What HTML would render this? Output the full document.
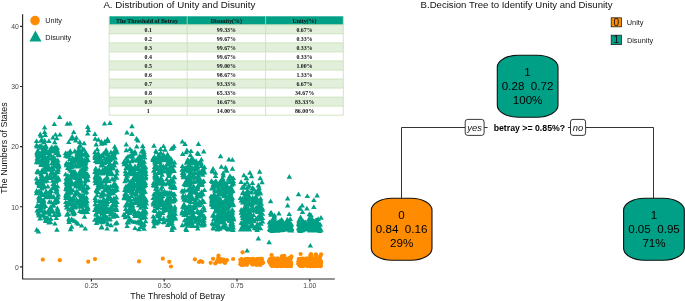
<!DOCTYPE html>
<html><head><meta charset="utf-8"><style>
html,body{margin:0;padding:0;background:#fff;width:685px;height:301px;overflow:hidden}
svg{position:absolute;left:0;top:0;display:block;will-change:transform}
text{font-family:"Liberation Sans",sans-serif}
.tk{font-size:6.75px;fill:#444}
.tb{font-family:"Liberation Serif",serif;font-weight:bold;font-size:5.9px;text-anchor:middle;fill:#111}
.nd{font-size:11.6px;text-anchor:middle;fill:#000}
</style></head><body>
<svg width="685" height="301" viewBox="0 0 685 301">
<!-- titles -->
<text x="103.4" y="7.5" style="font-size:9.7px" fill="#111">A. Distribution of Unity and Disunity</text>
<text x="420.6" y="7.8" style="font-size:9.6px" fill="#111">B.Decision Tree to Identify Unity and Disunity</text>
<!-- scatter -->
<path d="M80.7 170.7h5.5l-2.8 -4.7zM129.5 175.7h5.5l-2.8 -4.7zM104.6 189.2h5.5l-2.8 -4.7zM139.7 194.2h5.5l-2.8 -4.7zM126.7 186.2h5.5l-2.8 -4.7zM107.2 169.0h5.5l-2.8 -4.7zM99.6 224.2h5.5l-2.8 -4.7zM40.6 217.7h5.5l-2.8 -4.7zM81.4 207.8h5.5l-2.8 -4.7zM130.5 180.5h5.5l-2.8 -4.7zM214.2 193.3h5.5l-2.8 -4.7zM255.2 203.3h5.5l-2.8 -4.7zM82.2 164.8h5.5l-2.8 -4.7zM124.7 197.7h5.5l-2.8 -4.7zM129.2 194.4h5.5l-2.8 -4.7zM128.7 163.2h5.5l-2.8 -4.7zM82.1 183.6h5.5l-2.8 -4.7zM215.0 226.0h5.5l-2.8 -4.7zM83.4 175.1h5.5l-2.8 -4.7zM114.3 172.6h5.5l-2.8 -4.7zM45.1 165.4h5.5l-2.8 -4.7zM152.1 179.6h5.5l-2.8 -4.7zM197.1 164.5h5.5l-2.8 -4.7zM99.2 162.6h5.5l-2.8 -4.7zM194.3 183.4h5.5l-2.8 -4.7zM143.2 213.7h5.5l-2.8 -4.7zM218.9 195.9h5.5l-2.8 -4.7zM84.9 176.3h5.5l-2.8 -4.7zM215.7 199.4h5.5l-2.8 -4.7zM136.5 166.2h5.5l-2.8 -4.7zM125.0 188.0h5.5l-2.8 -4.7zM92.9 159.9h5.5l-2.8 -4.7zM167.0 169.8h5.5l-2.8 -4.7zM51.0 207.5h5.5l-2.8 -4.7zM98.1 209.0h5.5l-2.8 -4.7zM211.9 192.6h5.5l-2.8 -4.7zM211.1 220.9h5.5l-2.8 -4.7zM165.3 172.9h5.5l-2.8 -4.7zM52.0 165.9h5.5l-2.8 -4.7zM38.3 149.6h5.5l-2.8 -4.7zM55.2 164.9h5.5l-2.8 -4.7zM68.6 175.9h5.5l-2.8 -4.7zM127.0 222.0h5.5l-2.8 -4.7zM244.4 184.4h5.5l-2.8 -4.7zM39.9 156.3h5.5l-2.8 -4.7zM230.2 226.7h5.5l-2.8 -4.7zM137.7 217.6h5.5l-2.8 -4.7zM130.4 195.6h5.5l-2.8 -4.7zM50.7 175.7h5.5l-2.8 -4.7zM114.2 224.8h5.5l-2.8 -4.7zM129.9 156.2h5.5l-2.8 -4.7zM166.6 178.1h5.5l-2.8 -4.7zM133.5 196.8h5.5l-2.8 -4.7zM165.3 164.1h5.5l-2.8 -4.7zM304.7 229.1h5.5l-2.8 -4.7zM101.7 164.9h5.5l-2.8 -4.7zM190.0 217.0h5.5l-2.8 -4.7zM109.4 213.9h5.5l-2.8 -4.7zM278.3 225.5h5.5l-2.8 -4.7zM259.6 210.2h5.5l-2.8 -4.7zM55.3 171.8h5.5l-2.8 -4.7zM100.3 167.5h5.5l-2.8 -4.7zM105.2 210.6h5.5l-2.8 -4.7zM189.6 178.5h5.5l-2.8 -4.7zM307.4 222.7h5.5l-2.8 -4.7zM215.6 227.6h5.5l-2.8 -4.7zM164.9 226.9h5.5l-2.8 -4.7zM165.8 157.9h5.5l-2.8 -4.7zM35.1 207.4h5.5l-2.8 -4.7zM286.1 224.2h5.5l-2.8 -4.7zM298.2 225.8h5.5l-2.8 -4.7zM227.1 199.1h5.5l-2.8 -4.7zM237.6 200.0h5.5l-2.8 -4.7zM101.9 172.0h5.5l-2.8 -4.7zM276.8 226.2h5.5l-2.8 -4.7zM218.0 208.4h5.5l-2.8 -4.7zM46.5 203.8h5.5l-2.8 -4.7zM44.8 167.8h5.5l-2.8 -4.7zM138.1 223.0h5.5l-2.8 -4.7zM122.4 166.3h5.5l-2.8 -4.7zM181.2 206.3h5.5l-2.8 -4.7zM95.0 208.6h5.5l-2.8 -4.7zM213.6 210.5h5.5l-2.8 -4.7zM215.3 230.0h5.5l-2.8 -4.7zM246.6 216.8h5.5l-2.8 -4.7zM190.7 194.4h5.5l-2.8 -4.7zM249.6 226.2h5.5l-2.8 -4.7zM150.4 200.1h5.5l-2.8 -4.7zM217.6 220.6h5.5l-2.8 -4.7zM36.5 187.5h5.5l-2.8 -4.7zM184.2 152.2h5.5l-2.8 -4.7zM317.3 230.8h5.5l-2.8 -4.7zM165.1 184.4h5.5l-2.8 -4.7zM209.1 190.2h5.5l-2.8 -4.7zM197.5 223.1h5.5l-2.8 -4.7zM310.5 227.1h5.5l-2.8 -4.7zM164.5 210.3h5.5l-2.8 -4.7zM64.8 199.2h5.5l-2.8 -4.7zM125.3 200.7h5.5l-2.8 -4.7zM244.7 196.4h5.5l-2.8 -4.7zM65.7 158.8h5.5l-2.8 -4.7zM152.2 185.9h5.5l-2.8 -4.7zM38.3 147.7h5.5l-2.8 -4.7zM164.3 172.4h5.5l-2.8 -4.7zM76.2 150.9h5.5l-2.8 -4.7zM241.7 209.4h5.5l-2.8 -4.7zM104.4 221.0h5.5l-2.8 -4.7zM211.5 185.3h5.5l-2.8 -4.7zM68.3 172.7h5.5l-2.8 -4.7zM226.5 222.0h5.5l-2.8 -4.7zM194.6 191.0h5.5l-2.8 -4.7zM139.7 157.7h5.5l-2.8 -4.7zM190.7 165.1h5.5l-2.8 -4.7zM122.3 217.2h5.5l-2.8 -4.7zM141.3 225.9h5.5l-2.8 -4.7zM226.5 197.1h5.5l-2.8 -4.7zM75.8 165.3h5.5l-2.8 -4.7zM166.9 169.6h5.5l-2.8 -4.7zM156.0 194.2h5.5l-2.8 -4.7zM189.5 169.7h5.5l-2.8 -4.7zM81.8 218.8h5.5l-2.8 -4.7zM300.5 223.3h5.5l-2.8 -4.7zM199.4 223.0h5.5l-2.8 -4.7zM162.2 205.0h5.5l-2.8 -4.7zM110.4 195.2h5.5l-2.8 -4.7zM221.7 227.8h5.5l-2.8 -4.7zM38.1 208.1h5.5l-2.8 -4.7zM179.3 215.6h5.5l-2.8 -4.7zM63.2 196.7h5.5l-2.8 -4.7zM79.9 151.5h5.5l-2.8 -4.7zM192.3 208.3h5.5l-2.8 -4.7zM136.2 174.1h5.5l-2.8 -4.7zM194.9 188.2h5.5l-2.8 -4.7zM39.3 161.3h5.5l-2.8 -4.7zM39.6 154.2h5.5l-2.8 -4.7zM150.8 185.0h5.5l-2.8 -4.7zM95.9 223.8h5.5l-2.8 -4.7zM240.2 194.9h5.5l-2.8 -4.7zM42.5 196.4h5.5l-2.8 -4.7zM111.4 181.6h5.5l-2.8 -4.7zM158.2 171.3h5.5l-2.8 -4.7zM75.6 177.2h5.5l-2.8 -4.7zM217.8 186.7h5.5l-2.8 -4.7zM190.3 212.9h5.5l-2.8 -4.7zM126.9 214.9h5.5l-2.8 -4.7zM132.7 181.4h5.5l-2.8 -4.7zM241.5 222.5h5.5l-2.8 -4.7zM170.2 183.7h5.5l-2.8 -4.7zM132.7 200.9h5.5l-2.8 -4.7zM106.1 193.1h5.5l-2.8 -4.7zM106.5 221.1h5.5l-2.8 -4.7zM296.8 210.7h5.5l-2.8 -4.7zM77.4 172.9h5.5l-2.8 -4.7zM272.1 229.3h5.5l-2.8 -4.7zM155.1 201.0h5.5l-2.8 -4.7zM142.9 173.2h5.5l-2.8 -4.7zM48.3 175.0h5.5l-2.8 -4.7zM129.2 152.9h5.5l-2.8 -4.7zM80.6 169.5h5.5l-2.8 -4.7zM226.2 208.4h5.5l-2.8 -4.7zM196.1 181.7h5.5l-2.8 -4.7zM55.6 215.9h5.5l-2.8 -4.7zM253.2 221.5h5.5l-2.8 -4.7zM185.4 186.3h5.5l-2.8 -4.7zM276.6 231.7h5.5l-2.8 -4.7zM130.4 195.8h5.5l-2.8 -4.7zM96.2 162.9h5.5l-2.8 -4.7zM123.5 190.8h5.5l-2.8 -4.7zM243.3 206.9h5.5l-2.8 -4.7zM138.6 193.8h5.5l-2.8 -4.7zM299.2 223.8h5.5l-2.8 -4.7zM163.2 203.6h5.5l-2.8 -4.7zM105.0 162.0h5.5l-2.8 -4.7zM34.2 154.3h5.5l-2.8 -4.7zM245.1 209.5h5.5l-2.8 -4.7zM209.1 206.8h5.5l-2.8 -4.7zM124.9 167.9h5.5l-2.8 -4.7zM240.4 193.9h5.5l-2.8 -4.7zM168.3 208.0h5.5l-2.8 -4.7zM84.6 213.9h5.5l-2.8 -4.7zM274.7 224.8h5.5l-2.8 -4.7zM139.9 179.3h5.5l-2.8 -4.7zM93.8 172.2h5.5l-2.8 -4.7zM288.8 232.6h5.5l-2.8 -4.7zM213.9 187.6h5.5l-2.8 -4.7zM185.3 179.4h5.5l-2.8 -4.7zM279.8 231.8h5.5l-2.8 -4.7zM153.3 225.5h5.5l-2.8 -4.7zM94.2 174.5h5.5l-2.8 -4.7zM34.4 156.6h5.5l-2.8 -4.7zM314.9 231.8h5.5l-2.8 -4.7zM198.5 173.5h5.5l-2.8 -4.7zM243.8 231.5h5.5l-2.8 -4.7zM210.8 206.9h5.5l-2.8 -4.7zM224.1 230.1h5.5l-2.8 -4.7zM159.4 176.7h5.5l-2.8 -4.7zM131.4 204.9h5.5l-2.8 -4.7zM314.0 223.1h5.5l-2.8 -4.7zM166.9 203.7h5.5l-2.8 -4.7zM190.6 210.1h5.5l-2.8 -4.7zM241.4 189.7h5.5l-2.8 -4.7zM122.2 183.3h5.5l-2.8 -4.7zM63.7 185.8h5.5l-2.8 -4.7zM52.9 177.3h5.5l-2.8 -4.7zM135.6 223.8h5.5l-2.8 -4.7zM183.5 213.8h5.5l-2.8 -4.7zM82.4 201.8h5.5l-2.8 -4.7zM223.3 210.2h5.5l-2.8 -4.7zM166.4 218.4h5.5l-2.8 -4.7zM54.6 199.6h5.5l-2.8 -4.7zM55.5 196.6h5.5l-2.8 -4.7zM49.9 182.7h5.5l-2.8 -4.7zM109.2 157.9h5.5l-2.8 -4.7zM257.0 208.4h5.5l-2.8 -4.7zM300.5 223.9h5.5l-2.8 -4.7zM246.7 231.5h5.5l-2.8 -4.7zM42.1 151.3h5.5l-2.8 -4.7zM191.0 183.0h5.5l-2.8 -4.7zM80.6 151.7h5.5l-2.8 -4.7zM286.1 226.6h5.5l-2.8 -4.7zM99.1 186.9h5.5l-2.8 -4.7zM214.0 200.0h5.5l-2.8 -4.7zM229.4 183.4h5.5l-2.8 -4.7zM44.0 152.8h5.5l-2.8 -4.7zM156.4 156.9h5.5l-2.8 -4.7zM195.4 177.4h5.5l-2.8 -4.7zM187.9 222.2h5.5l-2.8 -4.7zM201.3 204.0h5.5l-2.8 -4.7zM298.3 232.4h5.5l-2.8 -4.7zM80.5 172.0h5.5l-2.8 -4.7zM306.8 220.9h5.5l-2.8 -4.7zM160.8 158.1h5.5l-2.8 -4.7zM43.0 214.7h5.5l-2.8 -4.7zM141.5 163.8h5.5l-2.8 -4.7zM180.1 176.9h5.5l-2.8 -4.7zM305.1 225.7h5.5l-2.8 -4.7zM184.3 169.7h5.5l-2.8 -4.7zM35.1 161.2h5.5l-2.8 -4.7zM223.5 171.8h5.5l-2.8 -4.7zM220.5 177.4h5.5l-2.8 -4.7zM184.5 192.6h5.5l-2.8 -4.7zM41.2 187.3h5.5l-2.8 -4.7zM221.6 195.7h5.5l-2.8 -4.7zM154.6 224.5h5.5l-2.8 -4.7zM157.3 167.4h5.5l-2.8 -4.7zM254.7 201.3h5.5l-2.8 -4.7zM46.5 197.5h5.5l-2.8 -4.7zM168.3 208.2h5.5l-2.8 -4.7zM300.7 229.6h5.5l-2.8 -4.7zM156.0 182.9h5.5l-2.8 -4.7zM96.0 182.6h5.5l-2.8 -4.7zM151.4 203.7h5.5l-2.8 -4.7zM171.4 229.8h5.5l-2.8 -4.7zM104.4 160.0h5.5l-2.8 -4.7zM246.6 223.4h5.5l-2.8 -4.7zM106.2 197.3h5.5l-2.8 -4.7zM192.7 209.4h5.5l-2.8 -4.7zM217.4 209.6h5.5l-2.8 -4.7zM48.1 197.6h5.5l-2.8 -4.7zM39.0 183.4h5.5l-2.8 -4.7zM142.9 208.9h5.5l-2.8 -4.7zM275.7 224.1h5.5l-2.8 -4.7zM55.3 214.6h5.5l-2.8 -4.7zM76.2 203.6h5.5l-2.8 -4.7zM73.2 188.3h5.5l-2.8 -4.7zM171.8 164.5h5.5l-2.8 -4.7zM305.2 227.6h5.5l-2.8 -4.7zM158.1 207.1h5.5l-2.8 -4.7zM196.9 174.4h5.5l-2.8 -4.7zM224.3 188.3h5.5l-2.8 -4.7zM83.8 179.5h5.5l-2.8 -4.7zM247.9 219.1h5.5l-2.8 -4.7zM229.2 186.5h5.5l-2.8 -4.7zM287.1 232.2h5.5l-2.8 -4.7zM312.1 231.4h5.5l-2.8 -4.7zM94.5 159.5h5.5l-2.8 -4.7zM112.0 217.8h5.5l-2.8 -4.7zM218.5 192.8h5.5l-2.8 -4.7zM141.2 154.1h5.5l-2.8 -4.7zM225.6 204.0h5.5l-2.8 -4.7zM107.5 169.4h5.5l-2.8 -4.7zM170.7 196.2h5.5l-2.8 -4.7zM83.2 205.1h5.5l-2.8 -4.7zM194.8 220.3h5.5l-2.8 -4.7zM101.8 222.5h5.5l-2.8 -4.7zM136.1 182.4h5.5l-2.8 -4.7zM38.6 177.9h5.5l-2.8 -4.7zM256.3 190.0h5.5l-2.8 -4.7zM45.0 162.6h5.5l-2.8 -4.7zM54.5 153.7h5.5l-2.8 -4.7zM226.0 190.7h5.5l-2.8 -4.7zM252.9 229.1h5.5l-2.8 -4.7zM255.8 187.4h5.5l-2.8 -4.7zM198.6 161.4h5.5l-2.8 -4.7zM300.0 232.2h5.5l-2.8 -4.7zM53.6 182.9h5.5l-2.8 -4.7zM94.4 190.4h5.5l-2.8 -4.7zM188.4 173.9h5.5l-2.8 -4.7zM308.2 216.9h5.5l-2.8 -4.7zM69.8 173.6h5.5l-2.8 -4.7zM198.8 186.9h5.5l-2.8 -4.7zM132.2 218.0h5.5l-2.8 -4.7zM111.7 159.8h5.5l-2.8 -4.7zM155.0 218.3h5.5l-2.8 -4.7zM230.6 220.0h5.5l-2.8 -4.7zM180.2 193.8h5.5l-2.8 -4.7zM257.3 194.0h5.5l-2.8 -4.7zM40.0 189.2h5.5l-2.8 -4.7zM38.7 197.0h5.5l-2.8 -4.7zM196.3 183.1h5.5l-2.8 -4.7zM282.9 225.6h5.5l-2.8 -4.7zM171.8 188.2h5.5l-2.8 -4.7zM111.6 207.0h5.5l-2.8 -4.7zM275.0 230.6h5.5l-2.8 -4.7zM35.1 152.4h5.5l-2.8 -4.7zM110.2 187.8h5.5l-2.8 -4.7zM215.8 224.5h5.5l-2.8 -4.7zM239.5 228.4h5.5l-2.8 -4.7zM220.7 207.2h5.5l-2.8 -4.7zM187.7 227.2h5.5l-2.8 -4.7zM160.9 196.1h5.5l-2.8 -4.7zM192.5 169.6h5.5l-2.8 -4.7zM129.6 206.8h5.5l-2.8 -4.7zM214.8 217.0h5.5l-2.8 -4.7zM138.0 185.7h5.5l-2.8 -4.7zM39.8 205.1h5.5l-2.8 -4.7zM197.6 175.7h5.5l-2.8 -4.7zM114.2 154.2h5.5l-2.8 -4.7zM49.1 149.3h5.5l-2.8 -4.7zM55.6 179.7h5.5l-2.8 -4.7zM160.4 212.9h5.5l-2.8 -4.7zM125.2 182.3h5.5l-2.8 -4.7zM162.3 151.7h5.5l-2.8 -4.7zM46.9 216.4h5.5l-2.8 -4.7zM122.0 163.7h5.5l-2.8 -4.7zM167.2 184.2h5.5l-2.8 -4.7zM136.5 178.4h5.5l-2.8 -4.7zM183.1 214.1h5.5l-2.8 -4.7zM186.6 173.2h5.5l-2.8 -4.7zM44.4 171.3h5.5l-2.8 -4.7zM240.7 231.6h5.5l-2.8 -4.7zM78.1 165.8h5.5l-2.8 -4.7zM188.9 209.7h5.5l-2.8 -4.7zM52.2 202.8h5.5l-2.8 -4.7zM268.1 229.4h5.5l-2.8 -4.7zM133.3 188.7h5.5l-2.8 -4.7zM44.9 169.4h5.5l-2.8 -4.7zM111.4 187.1h5.5l-2.8 -4.7zM35.1 159.3h5.5l-2.8 -4.7zM167.1 220.6h5.5l-2.8 -4.7zM253.9 202.1h5.5l-2.8 -4.7zM181.6 216.9h5.5l-2.8 -4.7zM194.2 191.0h5.5l-2.8 -4.7zM43.8 194.5h5.5l-2.8 -4.7zM297.4 233.0h5.5l-2.8 -4.7zM139.3 165.7h5.5l-2.8 -4.7zM240.5 200.9h5.5l-2.8 -4.7zM249.1 226.6h5.5l-2.8 -4.7zM313.4 224.9h5.5l-2.8 -4.7zM65.9 181.7h5.5l-2.8 -4.7zM254.7 226.0h5.5l-2.8 -4.7zM80.6 188.7h5.5l-2.8 -4.7zM312.8 222.6h5.5l-2.8 -4.7zM102.0 223.4h5.5l-2.8 -4.7zM136.9 215.3h5.5l-2.8 -4.7zM72.9 185.1h5.5l-2.8 -4.7zM100.5 155.8h5.5l-2.8 -4.7zM42.4 167.4h5.5l-2.8 -4.7zM95.7 141.7h5.5l-2.8 -4.7zM100.3 194.5h5.5l-2.8 -4.7zM159.9 215.0h5.5l-2.8 -4.7zM51.2 185.8h5.5l-2.8 -4.7zM80.8 174.3h5.5l-2.8 -4.7zM163.3 208.2h5.5l-2.8 -4.7zM163.5 206.4h5.5l-2.8 -4.7zM230.8 221.2h5.5l-2.8 -4.7zM155.9 197.0h5.5l-2.8 -4.7zM209.4 172.7h5.5l-2.8 -4.7zM107.4 191.1h5.5l-2.8 -4.7zM162.0 158.8h5.5l-2.8 -4.7zM136.1 189.6h5.5l-2.8 -4.7zM213.4 222.9h5.5l-2.8 -4.7zM304.5 226.9h5.5l-2.8 -4.7zM194.8 188.8h5.5l-2.8 -4.7zM33.7 180.6h5.5l-2.8 -4.7zM54.3 203.9h5.5l-2.8 -4.7zM313.7 222.3h5.5l-2.8 -4.7zM288.4 231.0h5.5l-2.8 -4.7zM168.5 184.9h5.5l-2.8 -4.7zM189.2 194.5h5.5l-2.8 -4.7zM125.2 162.1h5.5l-2.8 -4.7zM257.9 219.5h5.5l-2.8 -4.7zM277.9 227.1h5.5l-2.8 -4.7zM126.3 193.0h5.5l-2.8 -4.7zM66.4 203.5h5.5l-2.8 -4.7zM187.6 186.1h5.5l-2.8 -4.7zM131.2 201.1h5.5l-2.8 -4.7zM136.0 161.4h5.5l-2.8 -4.7zM215.3 226.4h5.5l-2.8 -4.7zM98.1 203.5h5.5l-2.8 -4.7zM48.9 160.0h5.5l-2.8 -4.7zM76.7 159.3h5.5l-2.8 -4.7zM217.1 195.1h5.5l-2.8 -4.7zM66.9 188.0h5.5l-2.8 -4.7zM105.7 182.4h5.5l-2.8 -4.7zM246.6 213.8h5.5l-2.8 -4.7zM137.9 218.7h5.5l-2.8 -4.7zM38.1 188.2h5.5l-2.8 -4.7zM46.2 157.2h5.5l-2.8 -4.7zM77.5 181.1h5.5l-2.8 -4.7zM97.3 205.2h5.5l-2.8 -4.7zM229.6 204.8h5.5l-2.8 -4.7zM79.4 188.0h5.5l-2.8 -4.7zM121.1 163.9h5.5l-2.8 -4.7zM258.0 215.4h5.5l-2.8 -4.7zM50.6 161.9h5.5l-2.8 -4.7zM269.6 232.4h5.5l-2.8 -4.7zM219.3 219.4h5.5l-2.8 -4.7zM50.2 213.0h5.5l-2.8 -4.7zM310.2 224.2h5.5l-2.8 -4.7zM221.6 212.8h5.5l-2.8 -4.7zM124.5 224.5h5.5l-2.8 -4.7zM108.2 173.5h5.5l-2.8 -4.7zM154.2 201.8h5.5l-2.8 -4.7zM84.8 157.0h5.5l-2.8 -4.7zM63.0 204.1h5.5l-2.8 -4.7zM166.4 220.9h5.5l-2.8 -4.7zM105.0 200.9h5.5l-2.8 -4.7zM239.5 217.8h5.5l-2.8 -4.7zM167.5 200.0h5.5l-2.8 -4.7zM197.3 223.0h5.5l-2.8 -4.7zM34.0 231.8h5.5l-2.8 -4.7zM80.1 178.2h5.5l-2.8 -4.7zM125.6 213.8h5.5l-2.8 -4.7zM216.9 210.6h5.5l-2.8 -4.7zM33.9 192.7h5.5l-2.8 -4.7zM142.3 169.4h5.5l-2.8 -4.7zM218.2 214.6h5.5l-2.8 -4.7zM142.4 185.0h5.5l-2.8 -4.7zM187.4 164.3h5.5l-2.8 -4.7zM158.4 185.5h5.5l-2.8 -4.7zM124.2 188.6h5.5l-2.8 -4.7zM46.1 211.7h5.5l-2.8 -4.7zM96.1 208.5h5.5l-2.8 -4.7zM38.0 206.2h5.5l-2.8 -4.7zM227.4 216.3h5.5l-2.8 -4.7zM36.9 188.1h5.5l-2.8 -4.7zM140.9 190.4h5.5l-2.8 -4.7zM275.0 232.7h5.5l-2.8 -4.7zM111.9 152.5h5.5l-2.8 -4.7zM210.3 226.3h5.5l-2.8 -4.7zM98.7 229.5h5.5l-2.8 -4.7zM132.3 175.0h5.5l-2.8 -4.7zM124.1 180.0h5.5l-2.8 -4.7zM98.6 196.4h5.5l-2.8 -4.7zM182.5 186.8h5.5l-2.8 -4.7zM186.8 192.1h5.5l-2.8 -4.7zM190.8 218.5h5.5l-2.8 -4.7zM50.4 170.7h5.5l-2.8 -4.7zM242.3 199.3h5.5l-2.8 -4.7zM108.2 216.2h5.5l-2.8 -4.7zM56.2 216.0h5.5l-2.8 -4.7zM193.7 183.3h5.5l-2.8 -4.7zM125.5 189.6h5.5l-2.8 -4.7zM303.6 230.6h5.5l-2.8 -4.7zM288.9 230.5h5.5l-2.8 -4.7zM44.9 167.3h5.5l-2.8 -4.7zM209.6 225.1h5.5l-2.8 -4.7zM210.7 217.0h5.5l-2.8 -4.7zM132.5 178.4h5.5l-2.8 -4.7zM113.9 188.4h5.5l-2.8 -4.7zM187.7 156.9h5.5l-2.8 -4.7zM78.8 197.7h5.5l-2.8 -4.7zM243.3 222.0h5.5l-2.8 -4.7zM83.9 205.4h5.5l-2.8 -4.7zM240.8 229.2h5.5l-2.8 -4.7zM220.7 182.9h5.5l-2.8 -4.7zM311.2 224.4h5.5l-2.8 -4.7zM244.1 207.0h5.5l-2.8 -4.7zM277.8 228.0h5.5l-2.8 -4.7zM217.1 210.2h5.5l-2.8 -4.7zM93.6 191.9h5.5l-2.8 -4.7zM109.5 209.3h5.5l-2.8 -4.7zM33.9 147.0h5.5l-2.8 -4.7zM221.2 218.0h5.5l-2.8 -4.7zM84.4 203.3h5.5l-2.8 -4.7zM138.3 193.6h5.5l-2.8 -4.7zM191.7 203.4h5.5l-2.8 -4.7zM47.4 156.3h5.5l-2.8 -4.7zM85.3 162.1h5.5l-2.8 -4.7zM189.4 200.9h5.5l-2.8 -4.7zM214.6 197.8h5.5l-2.8 -4.7zM96.3 187.6h5.5l-2.8 -4.7zM100.7 202.2h5.5l-2.8 -4.7zM285.0 222.5h5.5l-2.8 -4.7zM180.1 174.2h5.5l-2.8 -4.7zM221.5 203.2h5.5l-2.8 -4.7zM126.6 210.8h5.5l-2.8 -4.7zM128.6 176.3h5.5l-2.8 -4.7zM222.8 217.9h5.5l-2.8 -4.7zM53.6 164.5h5.5l-2.8 -4.7zM190.1 191.1h5.5l-2.8 -4.7zM153.8 183.3h5.5l-2.8 -4.7zM165.1 200.7h5.5l-2.8 -4.7zM136.6 203.7h5.5l-2.8 -4.7zM226.7 203.9h5.5l-2.8 -4.7zM79.0 178.5h5.5l-2.8 -4.7zM105.0 155.8h5.5l-2.8 -4.7zM274.6 232.2h5.5l-2.8 -4.7zM298.0 231.4h5.5l-2.8 -4.7zM169.4 170.9h5.5l-2.8 -4.7zM163.3 168.9h5.5l-2.8 -4.7zM257.3 204.8h5.5l-2.8 -4.7zM140.0 201.8h5.5l-2.8 -4.7zM41.3 217.4h5.5l-2.8 -4.7zM41.9 157.5h5.5l-2.8 -4.7zM256.7 193.2h5.5l-2.8 -4.7zM247.1 199.3h5.5l-2.8 -4.7zM137.1 200.7h5.5l-2.8 -4.7zM209.9 217.6h5.5l-2.8 -4.7zM39.0 165.2h5.5l-2.8 -4.7zM109.6 160.7h5.5l-2.8 -4.7zM47.7 209.3h5.5l-2.8 -4.7zM181.3 208.5h5.5l-2.8 -4.7zM195.8 221.6h5.5l-2.8 -4.7zM217.7 196.4h5.5l-2.8 -4.7zM34.4 212.5h5.5l-2.8 -4.7zM226.1 214.0h5.5l-2.8 -4.7zM84.0 161.2h5.5l-2.8 -4.7zM270.8 228.1h5.5l-2.8 -4.7zM137.8 158.6h5.5l-2.8 -4.7zM307.6 226.7h5.5l-2.8 -4.7zM164.6 202.6h5.5l-2.8 -4.7zM229.2 201.5h5.5l-2.8 -4.7zM104.4 219.5h5.5l-2.8 -4.7zM277.6 226.9h5.5l-2.8 -4.7zM37.9 181.1h5.5l-2.8 -4.7zM77.4 182.1h5.5l-2.8 -4.7zM126.4 207.5h5.5l-2.8 -4.7zM243.7 206.1h5.5l-2.8 -4.7zM46.1 170.8h5.5l-2.8 -4.7zM110.7 170.2h5.5l-2.8 -4.7zM271.4 225.3h5.5l-2.8 -4.7zM80.3 211.4h5.5l-2.8 -4.7zM220.6 204.4h5.5l-2.8 -4.7zM52.2 205.0h5.5l-2.8 -4.7zM167.5 203.5h5.5l-2.8 -4.7zM131.0 174.9h5.5l-2.8 -4.7zM36.6 148.1h5.5l-2.8 -4.7zM257.0 225.6h5.5l-2.8 -4.7zM201.6 226.7h5.5l-2.8 -4.7zM51.9 144.3h5.5l-2.8 -4.7zM151.7 187.8h5.5l-2.8 -4.7zM44.4 177.6h5.5l-2.8 -4.7zM311.7 228.2h5.5l-2.8 -4.7zM226.8 219.2h5.5l-2.8 -4.7zM110.6 187.8h5.5l-2.8 -4.7zM164.5 211.0h5.5l-2.8 -4.7zM55.0 202.7h5.5l-2.8 -4.7zM157.9 202.2h5.5l-2.8 -4.7zM220.7 216.6h5.5l-2.8 -4.7zM316.0 225.4h5.5l-2.8 -4.7zM246.5 204.5h5.5l-2.8 -4.7zM52.3 167.5h5.5l-2.8 -4.7zM221.2 217.5h5.5l-2.8 -4.7zM241.2 216.9h5.5l-2.8 -4.7zM39.5 172.0h5.5l-2.8 -4.7zM155.3 223.6h5.5l-2.8 -4.7zM169.3 164.2h5.5l-2.8 -4.7zM99.6 204.3h5.5l-2.8 -4.7zM131.7 216.0h5.5l-2.8 -4.7zM199.0 167.5h5.5l-2.8 -4.7zM253.5 209.1h5.5l-2.8 -4.7zM228.6 213.2h5.5l-2.8 -4.7zM75.5 205.4h5.5l-2.8 -4.7zM154.8 178.9h5.5l-2.8 -4.7zM152.2 187.1h5.5l-2.8 -4.7zM212.0 188.5h5.5l-2.8 -4.7zM34.4 148.5h5.5l-2.8 -4.7zM245.4 217.1h5.5l-2.8 -4.7zM129.0 156.1h5.5l-2.8 -4.7zM68.7 194.8h5.5l-2.8 -4.7zM269.8 229.0h5.5l-2.8 -4.7zM66.5 191.5h5.5l-2.8 -4.7zM241.4 213.5h5.5l-2.8 -4.7zM181.9 222.3h5.5l-2.8 -4.7zM140.1 194.2h5.5l-2.8 -4.7zM212.3 213.4h5.5l-2.8 -4.7zM166.5 161.5h5.5l-2.8 -4.7zM188.7 160.7h5.5l-2.8 -4.7zM82.8 194.7h5.5l-2.8 -4.7zM223.9 219.4h5.5l-2.8 -4.7zM134.4 191.4h5.5l-2.8 -4.7zM54.8 188.3h5.5l-2.8 -4.7zM99.5 221.7h5.5l-2.8 -4.7zM134.1 217.9h5.5l-2.8 -4.7zM46.5 154.5h5.5l-2.8 -4.7zM71.3 207.1h5.5l-2.8 -4.7zM199.8 227.5h5.5l-2.8 -4.7zM113.6 199.2h5.5l-2.8 -4.7zM246.7 224.4h5.5l-2.8 -4.7zM219.9 180.2h5.5l-2.8 -4.7zM167.4 174.0h5.5l-2.8 -4.7zM296.0 230.0h5.5l-2.8 -4.7zM35.7 173.4h5.5l-2.8 -4.7zM229.6 199.7h5.5l-2.8 -4.7zM95.0 222.6h5.5l-2.8 -4.7zM63.6 165.1h5.5l-2.8 -4.7zM229.8 211.9h5.5l-2.8 -4.7zM76.5 184.0h5.5l-2.8 -4.7zM63.7 200.1h5.5l-2.8 -4.7zM228.6 218.0h5.5l-2.8 -4.7zM211.6 217.9h5.5l-2.8 -4.7zM307.5 231.9h5.5l-2.8 -4.7zM151.7 158.7h5.5l-2.8 -4.7zM67.2 206.4h5.5l-2.8 -4.7zM214.2 220.8h5.5l-2.8 -4.7zM98.9 228.7h5.5l-2.8 -4.7zM97.0 175.4h5.5l-2.8 -4.7zM212.0 184.3h5.5l-2.8 -4.7zM139.8 208.2h5.5l-2.8 -4.7zM136.4 217.4h5.5l-2.8 -4.7zM40.5 180.5h5.5l-2.8 -4.7zM41.7 181.2h5.5l-2.8 -4.7zM51.1 153.4h5.5l-2.8 -4.7zM227.4 197.6h5.5l-2.8 -4.7zM143.1 209.1h5.5l-2.8 -4.7zM287.5 225.1h5.5l-2.8 -4.7zM102.5 154.5h5.5l-2.8 -4.7zM190.5 193.2h5.5l-2.8 -4.7zM307.4 232.6h5.5l-2.8 -4.7zM34.2 147.6h5.5l-2.8 -4.7zM162.8 159.8h5.5l-2.8 -4.7zM230.8 206.8h5.5l-2.8 -4.7zM192.9 171.5h5.5l-2.8 -4.7zM69.2 162.6h5.5l-2.8 -4.7zM219.2 224.6h5.5l-2.8 -4.7zM163.8 205.2h5.5l-2.8 -4.7zM54.0 140.3h5.5l-2.8 -4.7zM259.6 211.8h5.5l-2.8 -4.7zM109.7 175.9h5.5l-2.8 -4.7zM170.0 228.7h5.5l-2.8 -4.7zM56.1 181.7h5.5l-2.8 -4.7zM301.6 229.2h5.5l-2.8 -4.7zM47.9 193.3h5.5l-2.8 -4.7zM79.0 204.3h5.5l-2.8 -4.7zM201.7 169.3h5.5l-2.8 -4.7zM199.5 186.2h5.5l-2.8 -4.7zM154.5 195.1h5.5l-2.8 -4.7zM211.3 188.8h5.5l-2.8 -4.7zM254.7 214.0h5.5l-2.8 -4.7zM133.4 194.8h5.5l-2.8 -4.7zM245.0 189.5h5.5l-2.8 -4.7zM186.8 171.2h5.5l-2.8 -4.7zM53.6 155.0h5.5l-2.8 -4.7zM76.4 148.6h5.5l-2.8 -4.7zM123.5 180.0h5.5l-2.8 -4.7zM50.5 161.0h5.5l-2.8 -4.7zM125.5 224.5h5.5l-2.8 -4.7zM53.9 153.0h5.5l-2.8 -4.7zM170.0 215.7h5.5l-2.8 -4.7zM137.9 199.3h5.5l-2.8 -4.7zM154.6 169.7h5.5l-2.8 -4.7zM269.0 231.3h5.5l-2.8 -4.7zM246.1 218.6h5.5l-2.8 -4.7zM42.4 158.3h5.5l-2.8 -4.7zM36.2 193.5h5.5l-2.8 -4.7zM136.4 180.6h5.5l-2.8 -4.7zM243.1 221.3h5.5l-2.8 -4.7zM134.7 177.9h5.5l-2.8 -4.7zM137.9 186.3h5.5l-2.8 -4.7zM157.7 206.8h5.5l-2.8 -4.7zM188.8 200.5h5.5l-2.8 -4.7zM98.6 212.2h5.5l-2.8 -4.7zM109.9 155.7h5.5l-2.8 -4.7zM221.9 210.8h5.5l-2.8 -4.7zM185.1 227.7h5.5l-2.8 -4.7zM155.9 205.0h5.5l-2.8 -4.7zM188.7 226.2h5.5l-2.8 -4.7zM96.2 203.2h5.5l-2.8 -4.7zM310.5 231.2h5.5l-2.8 -4.7zM109.0 176.2h5.5l-2.8 -4.7zM108.6 208.6h5.5l-2.8 -4.7zM66.1 180.3h5.5l-2.8 -4.7zM229.0 186.8h5.5l-2.8 -4.7zM67.6 211.3h5.5l-2.8 -4.7zM101.1 200.9h5.5l-2.8 -4.7zM35.7 233.5h5.5l-2.8 -4.7zM287.9 230.5h5.5l-2.8 -4.7zM128.8 210.4h5.5l-2.8 -4.7zM227.2 178.0h5.5l-2.8 -4.7zM48.1 220.7h5.5l-2.8 -4.7zM194.4 179.6h5.5l-2.8 -4.7zM41.0 165.6h5.5l-2.8 -4.7zM258.5 209.6h5.5l-2.8 -4.7zM105.1 226.2h5.5l-2.8 -4.7zM253.1 198.2h5.5l-2.8 -4.7zM92.0 212.0h5.5l-2.8 -4.7zM143.6 205.4h5.5l-2.8 -4.7zM54.7 212.9h5.5l-2.8 -4.7zM138.5 176.9h5.5l-2.8 -4.7zM185.8 172.9h5.5l-2.8 -4.7zM269.7 226.6h5.5l-2.8 -4.7zM238.5 214.7h5.5l-2.8 -4.7zM209.0 202.8h5.5l-2.8 -4.7zM267.0 227.5h5.5l-2.8 -4.7zM250.0 204.9h5.5l-2.8 -4.7zM156.3 160.4h5.5l-2.8 -4.7zM128.8 213.8h5.5l-2.8 -4.7zM66.3 184.0h5.5l-2.8 -4.7zM298.4 229.6h5.5l-2.8 -4.7zM198.1 197.2h5.5l-2.8 -4.7zM107.3 165.5h5.5l-2.8 -4.7zM163.9 211.2h5.5l-2.8 -4.7zM83.2 175.5h5.5l-2.8 -4.7zM129.2 190.8h5.5l-2.8 -4.7zM249.9 199.4h5.5l-2.8 -4.7zM108.8 194.1h5.5l-2.8 -4.7zM255.4 191.7h5.5l-2.8 -4.7zM42.6 170.8h5.5l-2.8 -4.7zM257.9 200.6h5.5l-2.8 -4.7zM230.7 221.5h5.5l-2.8 -4.7zM318.3 219.7h5.5l-2.8 -4.7zM216.2 190.0h5.5l-2.8 -4.7zM246.6 220.5h5.5l-2.8 -4.7zM84.2 178.2h5.5l-2.8 -4.7zM103.0 220.4h5.5l-2.8 -4.7zM65.5 169.6h5.5l-2.8 -4.7zM124.0 214.1h5.5l-2.8 -4.7zM150.2 160.6h5.5l-2.8 -4.7zM213.7 228.2h5.5l-2.8 -4.7zM141.6 188.2h5.5l-2.8 -4.7zM69.5 205.1h5.5l-2.8 -4.7zM77.0 213.0h5.5l-2.8 -4.7zM141.1 198.1h5.5l-2.8 -4.7zM243.7 201.4h5.5l-2.8 -4.7zM99.9 220.2h5.5l-2.8 -4.7zM138.8 153.5h5.5l-2.8 -4.7zM38.0 194.9h5.5l-2.8 -4.7zM54.7 152.5h5.5l-2.8 -4.7zM187.6 178.9h5.5l-2.8 -4.7zM166.8 161.5h5.5l-2.8 -4.7zM98.5 166.9h5.5l-2.8 -4.7zM184.1 223.0h5.5l-2.8 -4.7zM95.2 193.9h5.5l-2.8 -4.7zM160.7 173.0h5.5l-2.8 -4.7zM98.6 184.8h5.5l-2.8 -4.7zM140.0 148.0h5.5l-2.8 -4.7zM240.0 225.0h5.5l-2.8 -4.7zM158.5 206.8h5.5l-2.8 -4.7zM129.9 210.2h5.5l-2.8 -4.7zM166.2 201.4h5.5l-2.8 -4.7zM252.3 204.6h5.5l-2.8 -4.7zM100.1 171.4h5.5l-2.8 -4.7zM110.7 194.9h5.5l-2.8 -4.7zM67.5 152.9h5.5l-2.8 -4.7zM74.5 181.8h5.5l-2.8 -4.7zM66.9 189.5h5.5l-2.8 -4.7zM73.8 193.1h5.5l-2.8 -4.7zM156.7 160.7h5.5l-2.8 -4.7zM187.7 171.0h5.5l-2.8 -4.7zM249.1 206.1h5.5l-2.8 -4.7zM255.6 187.5h5.5l-2.8 -4.7zM33.8 195.2h5.5l-2.8 -4.7zM216.3 204.5h5.5l-2.8 -4.7zM43.2 221.7h5.5l-2.8 -4.7zM283.5 227.7h5.5l-2.8 -4.7zM67.3 154.1h5.5l-2.8 -4.7zM198.5 205.6h5.5l-2.8 -4.7zM198.8 226.6h5.5l-2.8 -4.7zM155.4 199.6h5.5l-2.8 -4.7zM84.0 210.0h5.5l-2.8 -4.7zM112.6 192.3h5.5l-2.8 -4.7zM70.3 192.2h5.5l-2.8 -4.7zM170.3 173.0h5.5l-2.8 -4.7zM193.4 163.0h5.5l-2.8 -4.7zM190.6 178.1h5.5l-2.8 -4.7zM96.2 160.5h5.5l-2.8 -4.7zM220.0 224.3h5.5l-2.8 -4.7zM141.2 158.8h5.5l-2.8 -4.7zM142.3 174.9h5.5l-2.8 -4.7zM71.7 201.7h5.5l-2.8 -4.7zM161.8 193.2h5.5l-2.8 -4.7zM110.4 188.3h5.5l-2.8 -4.7zM75.5 195.1h5.5l-2.8 -4.7zM239.8 204.6h5.5l-2.8 -4.7zM179.7 175.1h5.5l-2.8 -4.7zM272.8 227.9h5.5l-2.8 -4.7zM63.1 200.0h5.5l-2.8 -4.7zM70.5 140.2h5.5l-2.8 -4.7zM239.4 189.7h5.5l-2.8 -4.7zM161.0 209.0h5.5l-2.8 -4.7zM67.6 200.8h5.5l-2.8 -4.7zM139.9 173.2h5.5l-2.8 -4.7zM138.6 176.5h5.5l-2.8 -4.7zM81.0 201.4h5.5l-2.8 -4.7zM34.2 208.0h5.5l-2.8 -4.7zM99.2 214.8h5.5l-2.8 -4.7zM154.1 191.1h5.5l-2.8 -4.7zM135.7 224.7h5.5l-2.8 -4.7zM242.0 215.5h5.5l-2.8 -4.7zM186.3 208.7h5.5l-2.8 -4.7zM166.5 194.5h5.5l-2.8 -4.7zM266.7 224.2h5.5l-2.8 -4.7zM230.6 180.1h5.5l-2.8 -4.7zM39.4 155.8h5.5l-2.8 -4.7zM73.1 177.2h5.5l-2.8 -4.7zM65.2 177.5h5.5l-2.8 -4.7zM273.0 232.8h5.5l-2.8 -4.7zM70.7 168.4h5.5l-2.8 -4.7zM136.3 160.5h5.5l-2.8 -4.7zM141.6 218.9h5.5l-2.8 -4.7zM73.3 208.3h5.5l-2.8 -4.7zM43.1 160.8h5.5l-2.8 -4.7zM228.5 204.6h5.5l-2.8 -4.7zM152.3 197.7h5.5l-2.8 -4.7zM153.1 190.6h5.5l-2.8 -4.7zM83.8 199.4h5.5l-2.8 -4.7zM129.7 181.7h5.5l-2.8 -4.7zM181.3 201.8h5.5l-2.8 -4.7zM95.6 214.1h5.5l-2.8 -4.7zM53.7 192.9h5.5l-2.8 -4.7zM39.3 183.1h5.5l-2.8 -4.7zM194.2 221.3h5.5l-2.8 -4.7zM190.2 161.1h5.5l-2.8 -4.7zM182.8 198.1h5.5l-2.8 -4.7zM92.5 173.9h5.5l-2.8 -4.7zM288.3 227.3h5.5l-2.8 -4.7zM245.6 219.2h5.5l-2.8 -4.7zM242.2 220.5h5.5l-2.8 -4.7zM66.3 223.9h5.5l-2.8 -4.7zM161.1 195.4h5.5l-2.8 -4.7zM225.1 210.3h5.5l-2.8 -4.7zM36.1 217.6h5.5l-2.8 -4.7zM143.1 178.8h5.5l-2.8 -4.7zM159.7 160.5h5.5l-2.8 -4.7zM64.8 156.8h5.5l-2.8 -4.7zM68.9 228.7h5.5l-2.8 -4.7zM183.5 187.3h5.5l-2.8 -4.7zM154.1 188.4h5.5l-2.8 -4.7zM74.2 155.5h5.5l-2.8 -4.7zM43.4 162.8h5.5l-2.8 -4.7zM249.5 190.3h5.5l-2.8 -4.7zM111.6 167.5h5.5l-2.8 -4.7zM157.8 151.1h5.5l-2.8 -4.7zM201.7 169.1h5.5l-2.8 -4.7zM48.9 153.3h5.5l-2.8 -4.7zM82.4 186.4h5.5l-2.8 -4.7zM151.0 172.7h5.5l-2.8 -4.7zM300.2 227.8h5.5l-2.8 -4.7zM67.0 171.5h5.5l-2.8 -4.7zM67.8 231.3h5.5l-2.8 -4.7zM241.6 225.2h5.5l-2.8 -4.7zM99.4 195.2h5.5l-2.8 -4.7zM95.8 181.9h5.5l-2.8 -4.7zM229.6 213.5h5.5l-2.8 -4.7zM79.7 197.7h5.5l-2.8 -4.7zM152.6 213.1h5.5l-2.8 -4.7zM160.6 156.5h5.5l-2.8 -4.7zM126.3 175.1h5.5l-2.8 -4.7zM110.6 218.0h5.5l-2.8 -4.7zM81.0 214.2h5.5l-2.8 -4.7zM214.6 193.4h5.5l-2.8 -4.7zM40.9 208.4h5.5l-2.8 -4.7zM213.9 186.6h5.5l-2.8 -4.7zM34.6 155.4h5.5l-2.8 -4.7zM73.8 201.4h5.5l-2.8 -4.7zM108.7 168.0h5.5l-2.8 -4.7zM222.7 210.4h5.5l-2.8 -4.7zM272.4 230.4h5.5l-2.8 -4.7zM169.9 182.4h5.5l-2.8 -4.7zM141.2 207.3h5.5l-2.8 -4.7zM127.3 170.0h5.5l-2.8 -4.7zM195.5 179.6h5.5l-2.8 -4.7zM75.5 182.0h5.5l-2.8 -4.7zM209.9 173.6h5.5l-2.8 -4.7zM75.6 168.4h5.5l-2.8 -4.7zM225.1 216.7h5.5l-2.8 -4.7zM72.9 160.5h5.5l-2.8 -4.7zM241.9 229.1h5.5l-2.8 -4.7zM220.3 210.3h5.5l-2.8 -4.7zM33.7 164.3h5.5l-2.8 -4.7zM39.5 184.4h5.5l-2.8 -4.7zM243.3 225.9h5.5l-2.8 -4.7zM229.3 203.8h5.5l-2.8 -4.7zM73.5 194.3h5.5l-2.8 -4.7zM313.1 226.5h5.5l-2.8 -4.7zM283.4 224.2h5.5l-2.8 -4.7zM68.9 167.3h5.5l-2.8 -4.7zM183.4 210.0h5.5l-2.8 -4.7zM210.8 205.2h5.5l-2.8 -4.7zM37.4 211.7h5.5l-2.8 -4.7zM153.5 204.1h5.5l-2.8 -4.7zM71.0 216.3h5.5l-2.8 -4.7zM75.4 188.8h5.5l-2.8 -4.7zM54.5 166.3h5.5l-2.8 -4.7zM170.9 179.5h5.5l-2.8 -4.7zM63.9 209.6h5.5l-2.8 -4.7zM43.7 197.2h5.5l-2.8 -4.7zM315.0 231.1h5.5l-2.8 -4.7zM83.6 182.2h5.5l-2.8 -4.7zM104.6 212.1h5.5l-2.8 -4.7zM219.3 186.7h5.5l-2.8 -4.7zM179.4 171.7h5.5l-2.8 -4.7zM127.8 205.6h5.5l-2.8 -4.7zM288.9 230.3h5.5l-2.8 -4.7zM194.8 189.5h5.5l-2.8 -4.7zM246.2 217.7h5.5l-2.8 -4.7zM41.4 156.6h5.5l-2.8 -4.7zM45.1 188.5h5.5l-2.8 -4.7zM110.7 205.4h5.5l-2.8 -4.7zM275.3 230.5h5.5l-2.8 -4.7zM155.8 205.2h5.5l-2.8 -4.7zM312.6 224.5h5.5l-2.8 -4.7zM281.1 226.7h5.5l-2.8 -4.7zM126.1 201.6h5.5l-2.8 -4.7zM169.8 229.7h5.5l-2.8 -4.7zM133.0 177.1h5.5l-2.8 -4.7zM98.3 189.2h5.5l-2.8 -4.7zM53.2 148.9h5.5l-2.8 -4.7zM41.3 149.3h5.5l-2.8 -4.7zM229.9 193.0h5.5l-2.8 -4.7zM125.5 213.1h5.5l-2.8 -4.7zM127.5 172.5h5.5l-2.8 -4.7zM104.9 196.4h5.5l-2.8 -4.7zM42.1 219.7h5.5l-2.8 -4.7zM158.6 199.3h5.5l-2.8 -4.7zM286.5 216.1h5.5l-2.8 -4.7zM139.3 182.2h5.5l-2.8 -4.7zM79.9 212.0h5.5l-2.8 -4.7zM158.0 154.8h5.5l-2.8 -4.7zM159.4 173.3h5.5l-2.8 -4.7zM78.3 183.1h5.5l-2.8 -4.7zM296.7 232.1h5.5l-2.8 -4.7zM95.6 186.8h5.5l-2.8 -4.7zM81.2 205.9h5.5l-2.8 -4.7zM55.2 199.1h5.5l-2.8 -4.7zM254.4 232.1h5.5l-2.8 -4.7zM37.3 220.5h5.5l-2.8 -4.7zM187.9 174.9h5.5l-2.8 -4.7zM183.7 232.0h5.5l-2.8 -4.7zM163.4 212.3h5.5l-2.8 -4.7zM192.4 175.3h5.5l-2.8 -4.7zM97.7 219.5h5.5l-2.8 -4.7zM94.2 197.2h5.5l-2.8 -4.7zM139.2 194.1h5.5l-2.8 -4.7zM94.4 164.3h5.5l-2.8 -4.7zM248.2 223.0h5.5l-2.8 -4.7zM259.8 223.4h5.5l-2.8 -4.7zM44.1 220.0h5.5l-2.8 -4.7zM251.7 212.2h5.5l-2.8 -4.7zM110.9 154.9h5.5l-2.8 -4.7zM110.9 218.8h5.5l-2.8 -4.7zM311.0 232.1h5.5l-2.8 -4.7zM160.0 210.0h5.5l-2.8 -4.7zM42.6 196.9h5.5l-2.8 -4.7zM296.5 228.9h5.5l-2.8 -4.7zM213.1 206.2h5.5l-2.8 -4.7zM295.8 226.0h5.5l-2.8 -4.7zM77.0 182.0h5.5l-2.8 -4.7zM238.5 211.7h5.5l-2.8 -4.7zM250.1 228.0h5.5l-2.8 -4.7zM271.7 219.7h5.5l-2.8 -4.7zM208.4 198.1h5.5l-2.8 -4.7zM251.1 203.7h5.5l-2.8 -4.7zM217.0 184.1h5.5l-2.8 -4.7zM137.1 223.1h5.5l-2.8 -4.7zM38.9 149.7h5.5l-2.8 -4.7zM93.8 193.2h5.5l-2.8 -4.7zM186.9 211.6h5.5l-2.8 -4.7zM168.0 212.6h5.5l-2.8 -4.7zM222.5 195.6h5.5l-2.8 -4.7zM187.8 183.9h5.5l-2.8 -4.7zM296.6 224.3h5.5l-2.8 -4.7zM104.4 178.8h5.5l-2.8 -4.7zM126.6 221.1h5.5l-2.8 -4.7zM56.0 156.3h5.5l-2.8 -4.7zM153.6 207.7h5.5l-2.8 -4.7zM106.3 198.0h5.5l-2.8 -4.7zM131.4 173.2h5.5l-2.8 -4.7zM92.4 206.3h5.5l-2.8 -4.7zM69.6 208.9h5.5l-2.8 -4.7zM182.1 199.9h5.5l-2.8 -4.7zM130.2 223.6h5.5l-2.8 -4.7zM156.9 220.6h5.5l-2.8 -4.7zM48.7 179.3h5.5l-2.8 -4.7zM155.2 198.4h5.5l-2.8 -4.7zM296.4 223.5h5.5l-2.8 -4.7zM138.7 205.6h5.5l-2.8 -4.7zM297.5 223.2h5.5l-2.8 -4.7zM105.3 190.2h5.5l-2.8 -4.7zM72.7 167.4h5.5l-2.8 -4.7zM162.2 186.3h5.5l-2.8 -4.7zM170.6 171.3h5.5l-2.8 -4.7zM131.1 188.5h5.5l-2.8 -4.7zM228.1 195.4h5.5l-2.8 -4.7zM65.1 215.6h5.5l-2.8 -4.7zM113.1 231.4h5.5l-2.8 -4.7zM166.2 164.9h5.5l-2.8 -4.7zM166.3 203.1h5.5l-2.8 -4.7zM138.1 183.4h5.5l-2.8 -4.7zM245.2 205.7h5.5l-2.8 -4.7zM76.4 187.6h5.5l-2.8 -4.7zM84.6 177.2h5.5l-2.8 -4.7zM308.6 230.7h5.5l-2.8 -4.7zM92.1 154.2h5.5l-2.8 -4.7zM158.3 190.8h5.5l-2.8 -4.7zM68.5 169.1h5.5l-2.8 -4.7zM187.8 225.3h5.5l-2.8 -4.7zM70.6 202.4h5.5l-2.8 -4.7zM42.2 170.0h5.5l-2.8 -4.7zM97.4 159.2h5.5l-2.8 -4.7zM81.8 192.3h5.5l-2.8 -4.7zM247.9 215.8h5.5l-2.8 -4.7zM135.8 207.3h5.5l-2.8 -4.7zM134.1 185.6h5.5l-2.8 -4.7zM42.6 173.5h5.5l-2.8 -4.7zM168.2 195.3h5.5l-2.8 -4.7zM183.8 216.9h5.5l-2.8 -4.7zM38.5 148.1h5.5l-2.8 -4.7zM172.1 201.8h5.5l-2.8 -4.7zM200.9 219.9h5.5l-2.8 -4.7zM194.4 194.9h5.5l-2.8 -4.7zM138.0 160.8h5.5l-2.8 -4.7zM287.5 220.9h5.5l-2.8 -4.7zM72.5 209.4h5.5l-2.8 -4.7zM34.8 155.1h5.5l-2.8 -4.7zM156.2 214.5h5.5l-2.8 -4.7zM78.1 177.7h5.5l-2.8 -4.7zM63.9 188.7h5.5l-2.8 -4.7zM140.3 193.4h5.5l-2.8 -4.7zM93.8 172.6h5.5l-2.8 -4.7zM187.6 189.2h5.5l-2.8 -4.7zM138.1 228.9h5.5l-2.8 -4.7zM103.5 211.6h5.5l-2.8 -4.7zM80.2 163.2h5.5l-2.8 -4.7zM158.5 179.9h5.5l-2.8 -4.7zM38.6 165.9h5.5l-2.8 -4.7zM142.9 213.3h5.5l-2.8 -4.7zM316.9 230.3h5.5l-2.8 -4.7zM77.9 183.7h5.5l-2.8 -4.7zM210.6 198.1h5.5l-2.8 -4.7zM286.7 223.4h5.5l-2.8 -4.7zM65.0 169.9h5.5l-2.8 -4.7zM211.0 190.4h5.5l-2.8 -4.7zM41.7 213.6h5.5l-2.8 -4.7zM82.4 212.5h5.5l-2.8 -4.7zM211.2 197.9h5.5l-2.8 -4.7zM64.2 158.2h5.5l-2.8 -4.7zM69.6 184.9h5.5l-2.8 -4.7zM151.0 222.9h5.5l-2.8 -4.7zM223.4 221.2h5.5l-2.8 -4.7zM208.8 183.0h5.5l-2.8 -4.7zM167.9 182.3h5.5l-2.8 -4.7zM224.5 189.1h5.5l-2.8 -4.7zM197.0 206.9h5.5l-2.8 -4.7zM136.5 167.1h5.5l-2.8 -4.7zM193.8 170.0h5.5l-2.8 -4.7zM247.3 201.3h5.5l-2.8 -4.7zM183.7 182.1h5.5l-2.8 -4.7zM98.3 212.4h5.5l-2.8 -4.7zM249.8 220.2h5.5l-2.8 -4.7zM153.8 178.7h5.5l-2.8 -4.7zM255.3 212.4h5.5l-2.8 -4.7zM64.7 206.1h5.5l-2.8 -4.7zM214.1 210.4h5.5l-2.8 -4.7zM109.4 211.5h5.5l-2.8 -4.7zM104.6 211.5h5.5l-2.8 -4.7zM171.2 183.6h5.5l-2.8 -4.7zM70.6 177.0h5.5l-2.8 -4.7zM55.7 166.5h5.5l-2.8 -4.7zM39.8 202.8h5.5l-2.8 -4.7zM187.4 219.0h5.5l-2.8 -4.7zM165.4 225.9h5.5l-2.8 -4.7zM76.3 180.8h5.5l-2.8 -4.7zM64.1 216.8h5.5l-2.8 -4.7zM167.0 226.0h5.5l-2.8 -4.7zM70.0 160.0h5.5l-2.8 -4.7zM212.0 209.2h5.5l-2.8 -4.7zM105.9 189.2h5.5l-2.8 -4.7zM190.4 191.3h5.5l-2.8 -4.7zM102.7 173.1h5.5l-2.8 -4.7zM162.2 159.0h5.5l-2.8 -4.7zM197.4 198.4h5.5l-2.8 -4.7zM271.7 230.5h5.5l-2.8 -4.7zM155.3 206.8h5.5l-2.8 -4.7zM125.9 163.6h5.5l-2.8 -4.7zM227.2 229.3h5.5l-2.8 -4.7zM46.8 171.8h5.5l-2.8 -4.7zM75.8 177.4h5.5l-2.8 -4.7zM63.9 188.3h5.5l-2.8 -4.7zM101.1 218.1h5.5l-2.8 -4.7zM132.6 155.4h5.5l-2.8 -4.7zM62.9 176.3h5.5l-2.8 -4.7zM187.1 225.1h5.5l-2.8 -4.7zM194.4 195.1h5.5l-2.8 -4.7zM187.4 167.9h5.5l-2.8 -4.7zM167.2 213.8h5.5l-2.8 -4.7zM94.7 156.9h5.5l-2.8 -4.7zM66.6 204.9h5.5l-2.8 -4.7zM110.9 166.0h5.5l-2.8 -4.7zM153.7 223.8h5.5l-2.8 -4.7zM81.6 198.6h5.5l-2.8 -4.7zM228.1 188.8h5.5l-2.8 -4.7zM112.0 148.7h5.5l-2.8 -4.7zM220.1 184.4h5.5l-2.8 -4.7zM50.6 171.3h5.5l-2.8 -4.7zM195.1 213.3h5.5l-2.8 -4.7zM216.8 206.7h5.5l-2.8 -4.7zM194.5 228.1h5.5l-2.8 -4.7zM252.4 199.8h5.5l-2.8 -4.7zM210.4 186.5h5.5l-2.8 -4.7zM187.7 184.5h5.5l-2.8 -4.7zM313.1 229.5h5.5l-2.8 -4.7zM181.5 185.9h5.5l-2.8 -4.7zM139.2 196.2h5.5l-2.8 -4.7zM258.6 205.8h5.5l-2.8 -4.7zM216.9 230.6h5.5l-2.8 -4.7zM48.0 157.0h5.5l-2.8 -4.7zM216.9 206.2h5.5l-2.8 -4.7zM297.8 231.1h5.5l-2.8 -4.7zM150.4 204.6h5.5l-2.8 -4.7zM41.1 144.2h5.5l-2.8 -4.7zM214.8 211.8h5.5l-2.8 -4.7zM84.2 176.7h5.5l-2.8 -4.7zM249.4 209.3h5.5l-2.8 -4.7zM279.6 231.2h5.5l-2.8 -4.7zM121.4 166.3h5.5l-2.8 -4.7zM48.7 210.6h5.5l-2.8 -4.7zM48.1 152.2h5.5l-2.8 -4.7zM43.2 149.1h5.5l-2.8 -4.7zM154.1 184.1h5.5l-2.8 -4.7zM45.5 212.7h5.5l-2.8 -4.7zM180.5 208.6h5.5l-2.8 -4.7zM133.7 203.8h5.5l-2.8 -4.7zM55.4 156.7h5.5l-2.8 -4.7zM137.6 207.4h5.5l-2.8 -4.7zM226.9 182.4h5.5l-2.8 -4.7zM49.6 190.1h5.5l-2.8 -4.7zM35.0 158.1h5.5l-2.8 -4.7zM286.4 223.5h5.5l-2.8 -4.7zM79.0 172.9h5.5l-2.8 -4.7zM35.8 215.4h5.5l-2.8 -4.7zM185.9 201.5h5.5l-2.8 -4.7zM224.0 172.7h5.5l-2.8 -4.7zM85.2 209.4h5.5l-2.8 -4.7zM47.1 179.9h5.5l-2.8 -4.7zM113.5 210.3h5.5l-2.8 -4.7zM257.5 214.3h5.5l-2.8 -4.7zM196.8 203.7h5.5l-2.8 -4.7zM151.7 160.7h5.5l-2.8 -4.7zM69.6 186.5h5.5l-2.8 -4.7zM276.0 229.7h5.5l-2.8 -4.7zM311.4 229.8h5.5l-2.8 -4.7zM139.2 162.4h5.5l-2.8 -4.7zM311.7 227.6h5.5l-2.8 -4.7zM126.7 191.1h5.5l-2.8 -4.7zM98.7 167.6h5.5l-2.8 -4.7zM241.0 216.5h5.5l-2.8 -4.7zM80.8 163.5h5.5l-2.8 -4.7zM142.4 171.6h5.5l-2.8 -4.7zM137.2 188.5h5.5l-2.8 -4.7zM215.9 222.1h5.5l-2.8 -4.7zM135.4 176.5h5.5l-2.8 -4.7zM153.0 190.7h5.5l-2.8 -4.7zM245.3 195.9h5.5l-2.8 -4.7zM130.5 195.5h5.5l-2.8 -4.7zM122.9 176.0h5.5l-2.8 -4.7zM172.5 215.7h5.5l-2.8 -4.7zM168.8 224.2h5.5l-2.8 -4.7zM93.9 175.5h5.5l-2.8 -4.7zM225.9 231.2h5.5l-2.8 -4.7zM168.5 194.4h5.5l-2.8 -4.7zM142.2 218.7h5.5l-2.8 -4.7zM266.9 231.0h5.5l-2.8 -4.7zM239.7 216.8h5.5l-2.8 -4.7zM300.2 228.9h5.5l-2.8 -4.7zM218.4 185.8h5.5l-2.8 -4.7zM164.1 212.3h5.5l-2.8 -4.7zM39.5 149.1h5.5l-2.8 -4.7zM154.1 210.2h5.5l-2.8 -4.7zM42.6 164.8h5.5l-2.8 -4.7zM78.7 154.0h5.5l-2.8 -4.7zM171.9 210.4h5.5l-2.8 -4.7zM226.5 230.9h5.5l-2.8 -4.7zM244.8 198.0h5.5l-2.8 -4.7zM172.5 220.7h5.5l-2.8 -4.7zM249.7 221.7h5.5l-2.8 -4.7zM110.0 159.0h5.5l-2.8 -4.7zM221.2 229.4h5.5l-2.8 -4.7zM71.8 214.8h5.5l-2.8 -4.7zM71.9 162.3h5.5l-2.8 -4.7zM41.0 189.6h5.5l-2.8 -4.7zM241.2 204.4h5.5l-2.8 -4.7zM50.1 139.6h5.5l-2.8 -4.7zM68.6 178.6h5.5l-2.8 -4.7zM139.3 198.4h5.5l-2.8 -4.7zM305.4 231.4h5.5l-2.8 -4.7zM166.1 205.9h5.5l-2.8 -4.7zM257.5 209.2h5.5l-2.8 -4.7zM192.6 201.7h5.5l-2.8 -4.7zM218.5 192.7h5.5l-2.8 -4.7zM153.2 161.5h5.5l-2.8 -4.7zM124.7 224.1h5.5l-2.8 -4.7zM164.0 181.2h5.5l-2.8 -4.7zM106.7 193.5h5.5l-2.8 -4.7zM180.3 197.6h5.5l-2.8 -4.7zM66.6 222.1h5.5l-2.8 -4.7zM113.4 151.6h5.5l-2.8 -4.7zM55.2 173.9h5.5l-2.8 -4.7zM92.3 182.8h5.5l-2.8 -4.7zM71.2 163.5h5.5l-2.8 -4.7zM157.5 182.7h5.5l-2.8 -4.7zM268.2 224.0h5.5l-2.8 -4.7zM228.9 219.3h5.5l-2.8 -4.7zM198.7 213.0h5.5l-2.8 -4.7zM156.7 174.2h5.5l-2.8 -4.7zM315.8 231.9h5.5l-2.8 -4.7zM209.8 184.1h5.5l-2.8 -4.7zM182.0 170.4h5.5l-2.8 -4.7zM82.5 193.2h5.5l-2.8 -4.7zM190.3 179.8h5.5l-2.8 -4.7zM36.4 186.2h5.5l-2.8 -4.7zM107.8 174.6h5.5l-2.8 -4.7zM103.2 162.6h5.5l-2.8 -4.7zM54.9 211.6h5.5l-2.8 -4.7zM270.0 221.1h5.5l-2.8 -4.7zM93.4 146.5h5.5l-2.8 -4.7zM123.0 210.9h5.5l-2.8 -4.7zM81.0 191.5h5.5l-2.8 -4.7zM56.1 157.2h5.5l-2.8 -4.7zM183.2 230.7h5.5l-2.8 -4.7zM313.0 229.0h5.5l-2.8 -4.7zM159.7 202.7h5.5l-2.8 -4.7zM191.0 188.3h5.5l-2.8 -4.7zM186.7 195.9h5.5l-2.8 -4.7zM47.3 210.2h5.5l-2.8 -4.7zM220.8 218.1h5.5l-2.8 -4.7zM168.1 217.4h5.5l-2.8 -4.7zM39.3 155.9h5.5l-2.8 -4.7zM49.0 169.2h5.5l-2.8 -4.7zM195.8 225.5h5.5l-2.8 -4.7zM277.4 226.4h5.5l-2.8 -4.7zM51.3 217.1h5.5l-2.8 -4.7zM167.6 188.7h5.5l-2.8 -4.7zM132.3 230.1h5.5l-2.8 -4.7zM286.7 224.7h5.5l-2.8 -4.7zM181.7 176.9h5.5l-2.8 -4.7zM138.8 191.6h5.5l-2.8 -4.7zM183.6 202.6h5.5l-2.8 -4.7zM42.7 207.9h5.5l-2.8 -4.7zM107.2 195.8h5.5l-2.8 -4.7zM127.8 183.8h5.5l-2.8 -4.7zM129.9 181.9h5.5l-2.8 -4.7zM243.7 180.3h5.5l-2.8 -4.7zM129.9 158.8h5.5l-2.8 -4.7zM272.9 229.5h5.5l-2.8 -4.7zM141.2 167.0h5.5l-2.8 -4.7zM221.5 186.0h5.5l-2.8 -4.7zM42.2 196.3h5.5l-2.8 -4.7zM77.0 143.9h5.5l-2.8 -4.7zM194.4 213.5h5.5l-2.8 -4.7zM217.7 201.3h5.5l-2.8 -4.7zM97.3 211.7h5.5l-2.8 -4.7zM302.8 224.2h5.5l-2.8 -4.7zM193.9 228.1h5.5l-2.8 -4.7zM196.7 186.8h5.5l-2.8 -4.7zM44.4 155.0h5.5l-2.8 -4.7zM55.8 167.7h5.5l-2.8 -4.7zM190.9 162.0h5.5l-2.8 -4.7zM83.4 204.7h5.5l-2.8 -4.7zM195.4 207.6h5.5l-2.8 -4.7zM155.7 216.2h5.5l-2.8 -4.7zM95.7 189.1h5.5l-2.8 -4.7zM307.8 224.6h5.5l-2.8 -4.7zM93.2 215.7h5.5l-2.8 -4.7zM169.0 203.1h5.5l-2.8 -4.7zM179.5 227.2h5.5l-2.8 -4.7zM189.9 227.9h5.5l-2.8 -4.7zM97.5 180.2h5.5l-2.8 -4.7zM228.5 226.2h5.5l-2.8 -4.7zM168.3 160.8h5.5l-2.8 -4.7zM227.6 218.9h5.5l-2.8 -4.7zM187.7 198.8h5.5l-2.8 -4.7zM108.1 200.2h5.5l-2.8 -4.7zM283.6 223.8h5.5l-2.8 -4.7zM194.4 166.4h5.5l-2.8 -4.7zM193.8 205.3h5.5l-2.8 -4.7zM184.4 184.3h5.5l-2.8 -4.7zM132.4 162.6h5.5l-2.8 -4.7zM219.5 192.3h5.5l-2.8 -4.7zM306.3 225.9h5.5l-2.8 -4.7zM35.5 174.5h5.5l-2.8 -4.7zM107.9 188.2h5.5l-2.8 -4.7zM43.0 196.2h5.5l-2.8 -4.7zM191.5 175.3h5.5l-2.8 -4.7zM93.7 208.9h5.5l-2.8 -4.7zM218.6 187.5h5.5l-2.8 -4.7zM138.0 209.8h5.5l-2.8 -4.7zM98.7 143.6h5.5l-2.8 -4.7zM277.0 230.0h5.5l-2.8 -4.7zM72.3 180.0h5.5l-2.8 -4.7zM76.6 160.9h5.5l-2.8 -4.7zM50.7 158.6h5.5l-2.8 -4.7zM92.7 182.3h5.5l-2.8 -4.7zM82.9 164.8h5.5l-2.8 -4.7zM137.5 203.9h5.5l-2.8 -4.7zM40.8 162.7h5.5l-2.8 -4.7zM161.3 224.3h5.5l-2.8 -4.7zM286.8 229.5h5.5l-2.8 -4.7zM48.8 213.7h5.5l-2.8 -4.7zM269.2 230.3h5.5l-2.8 -4.7zM185.5 214.2h5.5l-2.8 -4.7zM142.7 179.2h5.5l-2.8 -4.7zM188.3 199.7h5.5l-2.8 -4.7zM124.4 167.3h5.5l-2.8 -4.7zM196.3 219.2h5.5l-2.8 -4.7zM49.7 207.7h5.5l-2.8 -4.7zM275.1 226.6h5.5l-2.8 -4.7zM96.1 158.8h5.5l-2.8 -4.7zM249.7 184.9h5.5l-2.8 -4.7zM219.0 186.0h5.5l-2.8 -4.7zM223.0 192.3h5.5l-2.8 -4.7zM313.3 229.3h5.5l-2.8 -4.7zM124.7 206.2h5.5l-2.8 -4.7zM164.3 194.4h5.5l-2.8 -4.7zM187.6 208.1h5.5l-2.8 -4.7zM271.8 217.4h5.5l-2.8 -4.7zM167.4 170.5h5.5l-2.8 -4.7zM53.2 190.4h5.5l-2.8 -4.7zM53.7 178.5h5.5l-2.8 -4.7zM138.0 182.5h5.5l-2.8 -4.7zM94.4 211.8h5.5l-2.8 -4.7zM75.6 160.2h5.5l-2.8 -4.7zM104.2 206.3h5.5l-2.8 -4.7zM230.3 232.0h5.5l-2.8 -4.7zM127.1 170.8h5.5l-2.8 -4.7zM65.5 193.8h5.5l-2.8 -4.7zM64.7 215.6h5.5l-2.8 -4.7zM195.3 174.1h5.5l-2.8 -4.7zM297.8 219.2h5.5l-2.8 -4.7zM92.8 185.3h5.5l-2.8 -4.7zM211.4 196.1h5.5l-2.8 -4.7zM73.7 158.3h5.5l-2.8 -4.7zM228.1 195.5h5.5l-2.8 -4.7zM82.9 213.8h5.5l-2.8 -4.7zM268.4 216.8h5.5l-2.8 -4.7zM245.6 216.6h5.5l-2.8 -4.7zM217.1 207.1h5.5l-2.8 -4.7zM138.5 180.9h5.5l-2.8 -4.7zM273.0 223.8h5.5l-2.8 -4.7zM39.3 160.4h5.5l-2.8 -4.7zM63.1 191.0h5.5l-2.8 -4.7zM102.0 145.3h5.5l-2.8 -4.7zM199.7 216.4h5.5l-2.8 -4.7zM44.4 167.6h5.5l-2.8 -4.7zM227.1 206.5h5.5l-2.8 -4.7zM39.1 184.4h5.5l-2.8 -4.7zM189.2 192.8h5.5l-2.8 -4.7zM72.1 223.0h5.5l-2.8 -4.7zM155.6 161.1h5.5l-2.8 -4.7zM259.3 184.2h5.5l-2.8 -4.7zM54.5 150.0h5.5l-2.8 -4.7zM83.4 163.3h5.5l-2.8 -4.7zM219.2 181.7h5.5l-2.8 -4.7zM151.3 195.9h5.5l-2.8 -4.7zM169.7 196.1h5.5l-2.8 -4.7zM156.7 216.5h5.5l-2.8 -4.7zM103.0 209.0h5.5l-2.8 -4.7zM246.4 187.8h5.5l-2.8 -4.7zM77.3 167.5h5.5l-2.8 -4.7zM95.0 218.5h5.5l-2.8 -4.7zM92.0 221.8h5.5l-2.8 -4.7zM269.1 228.2h5.5l-2.8 -4.7zM247.4 228.5h5.5l-2.8 -4.7zM135.4 218.1h5.5l-2.8 -4.7zM134.1 176.0h5.5l-2.8 -4.7zM111.6 185.0h5.5l-2.8 -4.7zM71.5 197.8h5.5l-2.8 -4.7zM155.4 159.2h5.5l-2.8 -4.7zM37.9 156.0h5.5l-2.8 -4.7zM67.8 182.3h5.5l-2.8 -4.7zM217.0 186.5h5.5l-2.8 -4.7zM129.9 212.5h5.5l-2.8 -4.7zM66.2 198.4h5.5l-2.8 -4.7zM183.7 182.4h5.5l-2.8 -4.7zM227.1 200.4h5.5l-2.8 -4.7zM132.9 169.8h5.5l-2.8 -4.7zM280.1 223.6h5.5l-2.8 -4.7zM284.4 229.3h5.5l-2.8 -4.7zM130.2 172.1h5.5l-2.8 -4.7zM34.8 182.6h5.5l-2.8 -4.7zM41.3 159.9h5.5l-2.8 -4.7zM309.9 226.4h5.5l-2.8 -4.7zM245.9 204.9h5.5l-2.8 -4.7zM93.5 216.7h5.5l-2.8 -4.7zM38.4 176.0h5.5l-2.8 -4.7zM128.5 194.8h5.5l-2.8 -4.7zM216.7 216.8h5.5l-2.8 -4.7zM199.8 217.8h5.5l-2.8 -4.7zM310.2 226.9h5.5l-2.8 -4.7zM308.4 228.8h5.5l-2.8 -4.7zM316.3 226.8h5.5l-2.8 -4.7zM81.7 173.3h5.5l-2.8 -4.7zM107.5 216.4h5.5l-2.8 -4.7zM51.7 216.9h5.5l-2.8 -4.7zM46.7 193.7h5.5l-2.8 -4.7zM219.5 229.1h5.5l-2.8 -4.7zM200.1 223.2h5.5l-2.8 -4.7zM55.1 162.2h5.5l-2.8 -4.7zM276.2 215.5h5.5l-2.8 -4.7zM306.6 216.3h5.5l-2.8 -4.7zM129.0 171.8h5.5l-2.8 -4.7zM197.3 196.4h5.5l-2.8 -4.7zM52.3 187.2h5.5l-2.8 -4.7zM157.4 164.2h5.5l-2.8 -4.7zM187.3 223.2h5.5l-2.8 -4.7zM103.9 204.1h5.5l-2.8 -4.7zM53.9 194.5h5.5l-2.8 -4.7zM180.0 208.8h5.5l-2.8 -4.7zM185.5 186.1h5.5l-2.8 -4.7zM35.3 154.0h5.5l-2.8 -4.7zM285.5 224.4h5.5l-2.8 -4.7zM123.0 195.6h5.5l-2.8 -4.7zM63.5 199.4h5.5l-2.8 -4.7zM140.7 173.9h5.5l-2.8 -4.7zM70.1 160.6h5.5l-2.8 -4.7zM99.7 157.9h5.5l-2.8 -4.7zM128.3 174.9h5.5l-2.8 -4.7zM128.0 168.0h5.5l-2.8 -4.7zM168.7 150.8h5.5l-2.8 -4.7zM252.0 230.0h5.5l-2.8 -4.7zM65.6 165.5h5.5l-2.8 -4.7zM222.4 214.2h5.5l-2.8 -4.7zM108.6 209.9h5.5l-2.8 -4.7zM135.4 184.5h5.5l-2.8 -4.7zM165.0 196.8h5.5l-2.8 -4.7zM155.3 175.0h5.5l-2.8 -4.7zM102.3 173.2h5.5l-2.8 -4.7zM181.4 201.4h5.5l-2.8 -4.7zM99.6 215.8h5.5l-2.8 -4.7zM50.4 213.8h5.5l-2.8 -4.7zM83.9 193.7h5.5l-2.8 -4.7zM70.0 161.7h5.5l-2.8 -4.7zM134.0 148.4h5.5l-2.8 -4.7zM114.3 218.0h5.5l-2.8 -4.7zM196.9 181.2h5.5l-2.8 -4.7zM250.0 212.7h5.5l-2.8 -4.7zM221.6 211.1h5.5l-2.8 -4.7zM53.6 220.0h5.5l-2.8 -4.7zM254.5 196.6h5.5l-2.8 -4.7zM36.9 210.6h5.5l-2.8 -4.7zM111.6 211.5h5.5l-2.8 -4.7zM83.0 170.7h5.5l-2.8 -4.7zM224.9 230.9h5.5l-2.8 -4.7zM134.8 178.2h5.5l-2.8 -4.7zM113.0 206.5h5.5l-2.8 -4.7zM36.0 164.5h5.5l-2.8 -4.7zM100.2 188.6h5.5l-2.8 -4.7zM247.2 194.4h5.5l-2.8 -4.7zM190.8 217.2h5.5l-2.8 -4.7zM220.4 192.2h5.5l-2.8 -4.7zM197.4 214.3h5.5l-2.8 -4.7zM165.5 201.8h5.5l-2.8 -4.7zM273.8 227.1h5.5l-2.8 -4.7zM34.6 184.4h5.5l-2.8 -4.7zM229.3 207.2h5.5l-2.8 -4.7zM300.7 226.6h5.5l-2.8 -4.7zM244.9 230.6h5.5l-2.8 -4.7zM139.9 217.5h5.5l-2.8 -4.7zM171.8 201.6h5.5l-2.8 -4.7zM309.5 223.7h5.5l-2.8 -4.7zM190.5 227.7h5.5l-2.8 -4.7zM257.4 201.7h5.5l-2.8 -4.7zM162.1 208.3h5.5l-2.8 -4.7zM211.1 186.7h5.5l-2.8 -4.7zM99.8 223.4h5.5l-2.8 -4.7zM288.2 232.6h5.5l-2.8 -4.7zM142.3 169.0h5.5l-2.8 -4.7zM93.6 203.3h5.5l-2.8 -4.7zM169.0 189.5h5.5l-2.8 -4.7zM225.9 200.7h5.5l-2.8 -4.7zM140.1 159.2h5.5l-2.8 -4.7zM127.2 150.9h5.5l-2.8 -4.7zM76.0 163.3h5.5l-2.8 -4.7zM190.3 171.6h5.5l-2.8 -4.7zM158.7 168.4h5.5l-2.8 -4.7zM193.1 168.0h5.5l-2.8 -4.7zM189.0 163.3h5.5l-2.8 -4.7zM218.8 220.1h5.5l-2.8 -4.7zM218.5 206.5h5.5l-2.8 -4.7zM140.1 148.3h5.5l-2.8 -4.7zM214.9 223.6h5.5l-2.8 -4.7zM36.0 199.3h5.5l-2.8 -4.7zM38.9 190.4h5.5l-2.8 -4.7zM110.2 170.4h5.5l-2.8 -4.7zM197.0 185.5h5.5l-2.8 -4.7zM111.0 159.4h5.5l-2.8 -4.7zM83.9 156.2h5.5l-2.8 -4.7zM159.3 188.8h5.5l-2.8 -4.7zM220.4 175.3h5.5l-2.8 -4.7zM125.5 217.9h5.5l-2.8 -4.7zM142.6 180.4h5.5l-2.8 -4.7zM198.4 164.8h5.5l-2.8 -4.7zM201.0 153.5h5.5l-2.8 -4.7zM96.0 222.6h5.5l-2.8 -4.7zM108.2 154.2h5.5l-2.8 -4.7zM52.7 167.4h5.5l-2.8 -4.7zM34.4 160.6h5.5l-2.8 -4.7zM155.6 197.3h5.5l-2.8 -4.7zM133.6 201.3h5.5l-2.8 -4.7zM240.4 225.7h5.5l-2.8 -4.7zM215.1 227.8h5.5l-2.8 -4.7zM166.3 172.4h5.5l-2.8 -4.7zM73.9 224.5h5.5l-2.8 -4.7zM44.9 171.2h5.5l-2.8 -4.7zM135.3 214.2h5.5l-2.8 -4.7zM135.0 162.8h5.5l-2.8 -4.7zM270.0 225.0h5.5l-2.8 -4.7zM156.1 223.3h5.5l-2.8 -4.7zM122.6 173.2h5.5l-2.8 -4.7zM151.8 169.0h5.5l-2.8 -4.7zM253.0 204.0h5.5l-2.8 -4.7zM34.5 173.3h5.5l-2.8 -4.7zM100.8 202.7h5.5l-2.8 -4.7zM154.5 202.1h5.5l-2.8 -4.7zM217.5 211.9h5.5l-2.8 -4.7zM78.6 160.2h5.5l-2.8 -4.7zM134.5 205.1h5.5l-2.8 -4.7zM282.7 229.3h5.5l-2.8 -4.7zM113.3 207.0h5.5l-2.8 -4.7zM128.9 174.2h5.5l-2.8 -4.7zM152.3 165.3h5.5l-2.8 -4.7zM151.3 212.2h5.5l-2.8 -4.7zM255.3 227.9h5.5l-2.8 -4.7zM47.7 177.4h5.5l-2.8 -4.7zM303.9 227.9h5.5l-2.8 -4.7zM190.8 218.5h5.5l-2.8 -4.7zM215.5 220.0h5.5l-2.8 -4.7zM142.8 219.2h5.5l-2.8 -4.7zM278.2 224.0h5.5l-2.8 -4.7zM250.0 205.3h5.5l-2.8 -4.7zM181.3 174.6h5.5l-2.8 -4.7zM95.5 155.1h5.5l-2.8 -4.7zM130.2 195.6h5.5l-2.8 -4.7zM55.7 214.1h5.5l-2.8 -4.7zM267.8 231.0h5.5l-2.8 -4.7zM77.1 201.4h5.5l-2.8 -4.7zM167.5 172.4h5.5l-2.8 -4.7zM72.4 195.9h5.5l-2.8 -4.7zM190.7 218.9h5.5l-2.8 -4.7zM71.0 164.3h5.5l-2.8 -4.7zM286.3 223.5h5.5l-2.8 -4.7zM135.5 191.5h5.5l-2.8 -4.7zM153.5 171.2h5.5l-2.8 -4.7zM122.7 207.6h5.5l-2.8 -4.7zM257.6 202.5h5.5l-2.8 -4.7zM216.2 193.0h5.5l-2.8 -4.7zM139.0 165.6h5.5l-2.8 -4.7zM73.6 161.6h5.5l-2.8 -4.7zM76.3 162.1h5.5l-2.8 -4.7zM108.1 209.4h5.5l-2.8 -4.7zM190.8 164.0h5.5l-2.8 -4.7zM72.3 173.7h5.5l-2.8 -4.7zM100.1 175.2h5.5l-2.8 -4.7zM196.7 180.0h5.5l-2.8 -4.7zM157.2 205.1h5.5l-2.8 -4.7zM312.0 229.4h5.5l-2.8 -4.7zM223.6 200.4h5.5l-2.8 -4.7zM63.9 165.4h5.5l-2.8 -4.7zM68.6 179.1h5.5l-2.8 -4.7zM284.3 228.3h5.5l-2.8 -4.7zM163.7 162.1h5.5l-2.8 -4.7zM287.5 227.1h5.5l-2.8 -4.7zM78.5 186.2h5.5l-2.8 -4.7zM210.7 230.5h5.5l-2.8 -4.7zM219.0 223.7h5.5l-2.8 -4.7zM182.8 171.4h5.5l-2.8 -4.7zM181.3 209.4h5.5l-2.8 -4.7zM214.3 204.9h5.5l-2.8 -4.7zM106.3 159.4h5.5l-2.8 -4.7zM122.1 196.1h5.5l-2.8 -4.7zM172.3 201.0h5.5l-2.8 -4.7zM259.7 220.0h5.5l-2.8 -4.7zM244.2 218.7h5.5l-2.8 -4.7zM195.0 198.6h5.5l-2.8 -4.7zM188.7 211.6h5.5l-2.8 -4.7zM131.5 182.3h5.5l-2.8 -4.7zM124.2 177.6h5.5l-2.8 -4.7zM74.2 179.3h5.5l-2.8 -4.7zM67.1 154.7h5.5l-2.8 -4.7zM214.0 188.3h5.5l-2.8 -4.7zM107.0 168.8h5.5l-2.8 -4.7zM312.8 231.4h5.5l-2.8 -4.7zM241.2 203.6h5.5l-2.8 -4.7zM47.7 223.9h5.5l-2.8 -4.7zM222.3 225.7h5.5l-2.8 -4.7zM114.3 191.7h5.5l-2.8 -4.7zM100.8 212.8h5.5l-2.8 -4.7zM184.3 211.0h5.5l-2.8 -4.7zM34.6 174.1h5.5l-2.8 -4.7zM82.8 201.6h5.5l-2.8 -4.7zM191.3 194.3h5.5l-2.8 -4.7zM221.4 197.2h5.5l-2.8 -4.7zM238.5 202.4h5.5l-2.8 -4.7zM244.4 202.2h5.5l-2.8 -4.7zM243.9 230.4h5.5l-2.8 -4.7zM49.5 174.2h5.5l-2.8 -4.7zM97.6 210.0h5.5l-2.8 -4.7zM105.0 225.5h5.5l-2.8 -4.7zM166.2 175.7h5.5l-2.8 -4.7zM109.4 181.0h5.5l-2.8 -4.7zM199.0 193.6h5.5l-2.8 -4.7zM217.8 183.3h5.5l-2.8 -4.7zM81.3 161.9h5.5l-2.8 -4.7zM54.0 191.6h5.5l-2.8 -4.7zM259.7 215.8h5.5l-2.8 -4.7zM304.9 226.9h5.5l-2.8 -4.7zM121.8 198.5h5.5l-2.8 -4.7zM225.4 190.2h5.5l-2.8 -4.7zM286.8 226.9h5.5l-2.8 -4.7zM154.4 203.0h5.5l-2.8 -4.7zM277.2 226.0h5.5l-2.8 -4.7zM76.3 152.4h5.5l-2.8 -4.7zM197.7 216.3h5.5l-2.8 -4.7zM255.5 209.5h5.5l-2.8 -4.7zM42.9 165.0h5.5l-2.8 -4.7zM37.0 186.0h5.5l-2.8 -4.7zM111.0 166.8h5.5l-2.8 -4.7zM104.8 141.2h5.5l-2.8 -4.7zM139.6 226.2h5.5l-2.8 -4.7zM135.3 200.1h5.5l-2.8 -4.7zM81.6 207.5h5.5l-2.8 -4.7zM270.3 225.7h5.5l-2.8 -4.7zM153.9 168.7h5.5l-2.8 -4.7zM76.0 175.5h5.5l-2.8 -4.7zM97.6 183.5h5.5l-2.8 -4.7zM140.5 218.1h5.5l-2.8 -4.7zM124.1 213.2h5.5l-2.8 -4.7zM309.3 220.6h5.5l-2.8 -4.7zM157.4 203.6h5.5l-2.8 -4.7zM187.4 171.9h5.5l-2.8 -4.7zM47.2 198.9h5.5l-2.8 -4.7zM68.7 166.4h5.5l-2.8 -4.7zM38.7 157.9h5.5l-2.8 -4.7zM194.7 155.3h5.5l-2.8 -4.7zM200.1 176.7h5.5l-2.8 -4.7zM95.5 174.8h5.5l-2.8 -4.7zM63.7 195.3h5.5l-2.8 -4.7zM152.6 204.8h5.5l-2.8 -4.7zM184.3 187.3h5.5l-2.8 -4.7zM95.3 213.0h5.5l-2.8 -4.7zM43.4 193.2h5.5l-2.8 -4.7zM40.6 203.4h5.5l-2.8 -4.7zM224.2 217.9h5.5l-2.8 -4.7zM136.5 165.1h5.5l-2.8 -4.7zM110.1 155.6h5.5l-2.8 -4.7zM94.1 176.4h5.5l-2.8 -4.7zM114.2 204.1h5.5l-2.8 -4.7zM194.5 221.5h5.5l-2.8 -4.7zM201.7 192.0h5.5l-2.8 -4.7zM94.5 151.3h5.5l-2.8 -4.7zM95.7 184.8h5.5l-2.8 -4.7zM35.6 214.3h5.5l-2.8 -4.7zM44.4 182.7h5.5l-2.8 -4.7zM43.1 199.3h5.5l-2.8 -4.7zM184.0 164.7h5.5l-2.8 -4.7zM128.9 169.1h5.5l-2.8 -4.7zM141.6 156.5h5.5l-2.8 -4.7zM112.8 178.5h5.5l-2.8 -4.7zM318.3 231.8h5.5l-2.8 -4.7zM255.5 230.4h5.5l-2.8 -4.7zM277.3 223.0h5.5l-2.8 -4.7zM193.2 220.2h5.5l-2.8 -4.7zM72.2 209.0h5.5l-2.8 -4.7zM304.9 226.2h5.5l-2.8 -4.7zM97.8 164.0h5.5l-2.8 -4.7zM53.0 174.6h5.5l-2.8 -4.7zM214.0 221.3h5.5l-2.8 -4.7zM185.6 208.7h5.5l-2.8 -4.7zM39.4 212.7h5.5l-2.8 -4.7zM268.8 226.4h5.5l-2.8 -4.7zM66.0 211.1h5.5l-2.8 -4.7zM41.9 142.5h5.5l-2.8 -4.7zM99.8 220.0h5.5l-2.8 -4.7zM139.7 171.8h5.5l-2.8 -4.7zM77.3 155.4h5.5l-2.8 -4.7zM245.0 228.1h5.5l-2.8 -4.7zM245.3 204.5h5.5l-2.8 -4.7zM62.9 157.6h5.5l-2.8 -4.7zM133.0 195.2h5.5l-2.8 -4.7zM210.6 229.5h5.5l-2.8 -4.7zM194.1 200.6h5.5l-2.8 -4.7zM188.1 203.9h5.5l-2.8 -4.7zM314.7 231.3h5.5l-2.8 -4.7zM245.7 200.0h5.5l-2.8 -4.7zM112.9 154.1h5.5l-2.8 -4.7zM195.7 165.5h5.5l-2.8 -4.7zM227.9 195.2h5.5l-2.8 -4.7zM81.5 151.7h5.5l-2.8 -4.7zM165.8 174.8h5.5l-2.8 -4.7zM167.6 211.5h5.5l-2.8 -4.7zM142.8 202.4h5.5l-2.8 -4.7zM209.4 203.9h5.5l-2.8 -4.7zM151.7 224.4h5.5l-2.8 -4.7zM43.8 179.1h5.5l-2.8 -4.7zM211.9 226.2h5.5l-2.8 -4.7zM164.8 156.3h5.5l-2.8 -4.7zM66.1 191.9h5.5l-2.8 -4.7zM168.7 221.6h5.5l-2.8 -4.7zM69.0 164.0h5.5l-2.8 -4.7zM84.1 190.2h5.5l-2.8 -4.7zM123.1 197.6h5.5l-2.8 -4.7zM154.5 164.0h5.5l-2.8 -4.7zM139.7 214.0h5.5l-2.8 -4.7zM80.7 192.4h5.5l-2.8 -4.7zM134.3 193.1h5.5l-2.8 -4.7zM135.7 169.9h5.5l-2.8 -4.7zM53.4 180.4h5.5l-2.8 -4.7zM49.4 164.9h5.5l-2.8 -4.7zM79.8 178.7h5.5l-2.8 -4.7zM155.4 183.5h5.5l-2.8 -4.7zM187.7 195.4h5.5l-2.8 -4.7zM68.1 200.4h5.5l-2.8 -4.7zM66.1 220.7h5.5l-2.8 -4.7zM218.6 203.9h5.5l-2.8 -4.7zM75.7 203.6h5.5l-2.8 -4.7zM140.9 227.2h5.5l-2.8 -4.7zM102.3 172.1h5.5l-2.8 -4.7zM38.3 137.8h5.5l-2.8 -4.7zM217.0 217.6h5.5l-2.8 -4.7zM142.9 223.2h5.5l-2.8 -4.7zM281.2 226.5h5.5l-2.8 -4.7zM104.3 206.3h5.5l-2.8 -4.7zM215.8 228.2h5.5l-2.8 -4.7zM160.8 209.4h5.5l-2.8 -4.7zM77.0 197.0h5.5l-2.8 -4.7zM267.4 232.1h5.5l-2.8 -4.7zM55.2 169.4h5.5l-2.8 -4.7zM105.0 181.7h5.5l-2.8 -4.7zM307.2 230.0h5.5l-2.8 -4.7zM164.5 165.8h5.5l-2.8 -4.7zM185.7 168.0h5.5l-2.8 -4.7zM189.7 199.2h5.5l-2.8 -4.7zM71.1 173.8h5.5l-2.8 -4.7zM52.2 160.5h5.5l-2.8 -4.7zM92.2 159.4h5.5l-2.8 -4.7zM68.6 211.9h5.5l-2.8 -4.7zM132.1 204.1h5.5l-2.8 -4.7zM280.1 232.1h5.5l-2.8 -4.7zM81.1 198.5h5.5l-2.8 -4.7zM285.3 227.8h5.5l-2.8 -4.7zM191.1 184.0h5.5l-2.8 -4.7zM240.0 220.0h5.5l-2.8 -4.7zM108.9 202.9h5.5l-2.8 -4.7zM74.6 182.9h5.5l-2.8 -4.7zM122.5 219.2h5.5l-2.8 -4.7zM209.7 190.5h5.5l-2.8 -4.7zM275.4 227.7h5.5l-2.8 -4.7zM199.7 184.1h5.5l-2.8 -4.7zM288.6 226.1h5.5l-2.8 -4.7zM38.7 154.3h5.5l-2.8 -4.7zM229.2 220.6h5.5l-2.8 -4.7zM257.5 195.5h5.5l-2.8 -4.7zM199.1 167.9h5.5l-2.8 -4.7zM140.7 194.5h5.5l-2.8 -4.7zM306.8 231.4h5.5l-2.8 -4.7zM310.7 232.1h5.5l-2.8 -4.7zM154.0 206.9h5.5l-2.8 -4.7zM247.4 221.4h5.5l-2.8 -4.7zM74.5 186.5h5.5l-2.8 -4.7zM227.8 205.9h5.5l-2.8 -4.7zM317.0 233.0h5.5l-2.8 -4.7zM179.4 213.6h5.5l-2.8 -4.7zM68.1 203.4h5.5l-2.8 -4.7zM170.5 219.9h5.5l-2.8 -4.7zM125.3 158.4h5.5l-2.8 -4.7zM157.8 202.4h5.5l-2.8 -4.7zM49.7 174.8h5.5l-2.8 -4.7zM142.6 168.8h5.5l-2.8 -4.7zM139.0 159.6h5.5l-2.8 -4.7zM287.4 226.6h5.5l-2.8 -4.7zM130.9 191.1h5.5l-2.8 -4.7zM185.4 214.0h5.5l-2.8 -4.7zM225.7 199.3h5.5l-2.8 -4.7zM229.5 191.6h5.5l-2.8 -4.7zM310.8 232.0h5.5l-2.8 -4.7zM126.9 158.4h5.5l-2.8 -4.7zM138.8 176.7h5.5l-2.8 -4.7zM132.8 180.0h5.5l-2.8 -4.7zM164.5 166.5h5.5l-2.8 -4.7zM104.8 213.7h5.5l-2.8 -4.7zM127.2 221.8h5.5l-2.8 -4.7zM106.8 199.5h5.5l-2.8 -4.7zM153.2 152.9h5.5l-2.8 -4.7zM51.0 179.2h5.5l-2.8 -4.7zM122.0 200.2h5.5l-2.8 -4.7zM160.8 162.3h5.5l-2.8 -4.7zM270.4 224.3h5.5l-2.8 -4.7zM138.7 173.5h5.5l-2.8 -4.7zM279.8 227.1h5.5l-2.8 -4.7zM307.3 232.2h5.5l-2.8 -4.7zM272.6 227.2h5.5l-2.8 -4.7zM104.6 200.4h5.5l-2.8 -4.7zM123.3 169.9h5.5l-2.8 -4.7zM106.9 221.6h5.5l-2.8 -4.7zM112.1 164.4h5.5l-2.8 -4.7zM95.2 179.3h5.5l-2.8 -4.7zM276.9 224.8h5.5l-2.8 -4.7zM184.7 171.1h5.5l-2.8 -4.7zM106.1 161.7h5.5l-2.8 -4.7zM226.0 204.3h5.5l-2.8 -4.7zM214.0 208.8h5.5l-2.8 -4.7zM99.8 164.6h5.5l-2.8 -4.7zM197.3 195.5h5.5l-2.8 -4.7zM213.2 203.5h5.5l-2.8 -4.7zM43.2 198.8h5.5l-2.8 -4.7zM142.7 187.0h5.5l-2.8 -4.7zM284.6 221.5h5.5l-2.8 -4.7zM142.4 193.8h5.5l-2.8 -4.7zM55.0 166.4h5.5l-2.8 -4.7zM136.3 161.2h5.5l-2.8 -4.7zM41.6 187.9h5.5l-2.8 -4.7zM209.0 201.8h5.5l-2.8 -4.7zM164.1 201.3h5.5l-2.8 -4.7zM243.3 212.1h5.5l-2.8 -4.7zM135.2 168.2h5.5l-2.8 -4.7zM253.3 200.3h5.5l-2.8 -4.7zM245.5 214.0h5.5l-2.8 -4.7zM277.5 227.3h5.5l-2.8 -4.7zM127.6 212.2h5.5l-2.8 -4.7zM34.4 183.4h5.5l-2.8 -4.7zM159.1 181.2h5.5l-2.8 -4.7zM99.3 198.4h5.5l-2.8 -4.7zM97.2 163.2h5.5l-2.8 -4.7zM100.3 214.3h5.5l-2.8 -4.7zM112.7 154.0h5.5l-2.8 -4.7zM52.2 225.6h5.5l-2.8 -4.7zM84.6 161.4h5.5l-2.8 -4.7zM111.6 203.8h5.5l-2.8 -4.7zM198.3 195.3h5.5l-2.8 -4.7zM167.6 210.0h5.5l-2.8 -4.7zM136.2 204.8h5.5l-2.8 -4.7zM139.9 168.5h5.5l-2.8 -4.7zM152.6 223.0h5.5l-2.8 -4.7zM155.9 223.5h5.5l-2.8 -4.7zM100.8 218.5h5.5l-2.8 -4.7zM127.3 174.9h5.5l-2.8 -4.7zM230.8 185.5h5.5l-2.8 -4.7zM198.9 195.9h5.5l-2.8 -4.7zM103.2 181.8h5.5l-2.8 -4.7zM240.1 213.2h5.5l-2.8 -4.7zM113.4 164.4h5.5l-2.8 -4.7zM304.2 210.4h5.5l-2.8 -4.7zM40.7 209.6h5.5l-2.8 -4.7zM98.7 157.7h5.5l-2.8 -4.7zM169.1 203.7h5.5l-2.8 -4.7zM171.3 167.5h5.5l-2.8 -4.7zM44.1 178.0h5.5l-2.8 -4.7zM143.1 175.9h5.5l-2.8 -4.7zM132.3 223.9h5.5l-2.8 -4.7zM94.5 160.7h5.5l-2.8 -4.7zM52.8 183.7h5.5l-2.8 -4.7zM92.1 174.1h5.5l-2.8 -4.7zM73.6 139.7h5.5l-2.8 -4.7zM241.0 220.3h5.5l-2.8 -4.7zM201.5 218.3h5.5l-2.8 -4.7zM189.1 211.4h5.5l-2.8 -4.7zM93.3 209.1h5.5l-2.8 -4.7zM139.6 197.0h5.5l-2.8 -4.7zM111.6 155.4h5.5l-2.8 -4.7zM134.5 224.3h5.5l-2.8 -4.7zM274.2 231.4h5.5l-2.8 -4.7zM81.5 156.8h5.5l-2.8 -4.7zM81.1 190.3h5.5l-2.8 -4.7zM83.4 168.7h5.5l-2.8 -4.7zM103.8 171.9h5.5l-2.8 -4.7zM124.4 228.1h5.5l-2.8 -4.7zM50.4 186.1h5.5l-2.8 -4.7zM156.1 185.7h5.5l-2.8 -4.7zM229.6 215.2h5.5l-2.8 -4.7zM141.8 159.6h5.5l-2.8 -4.7zM132.3 168.2h5.5l-2.8 -4.7zM63.1 184.1h5.5l-2.8 -4.7zM106.5 168.1h5.5l-2.8 -4.7zM112.3 216.2h5.5l-2.8 -4.7zM169.2 224.9h5.5l-2.8 -4.7zM298.6 231.9h5.5l-2.8 -4.7zM107.3 162.1h5.5l-2.8 -4.7zM37.5 185.8h5.5l-2.8 -4.7zM255.9 212.0h5.5l-2.8 -4.7zM96.3 210.2h5.5l-2.8 -4.7zM249.4 220.4h5.5l-2.8 -4.7zM68.5 206.3h5.5l-2.8 -4.7zM195.0 230.6h5.5l-2.8 -4.7zM157.3 214.7h5.5l-2.8 -4.7zM76.1 168.6h5.5l-2.8 -4.7zM131.3 176.3h5.5l-2.8 -4.7zM244.7 192.7h5.5l-2.8 -4.7zM225.7 184.1h5.5l-2.8 -4.7zM155.3 194.5h5.5l-2.8 -4.7zM278.1 232.3h5.5l-2.8 -4.7zM109.2 202.3h5.5l-2.8 -4.7zM162.9 170.0h5.5l-2.8 -4.7zM251.4 223.3h5.5l-2.8 -4.7zM107.3 221.1h5.5l-2.8 -4.7zM70.3 200.7h5.5l-2.8 -4.7zM72.9 184.5h5.5l-2.8 -4.7zM222.9 197.0h5.5l-2.8 -4.7zM104.4 164.0h5.5l-2.8 -4.7zM284.6 229.5h5.5l-2.8 -4.7zM201.0 172.6h5.5l-2.8 -4.7zM106.3 183.1h5.5l-2.8 -4.7zM67.1 160.9h5.5l-2.8 -4.7zM256.1 221.0h5.5l-2.8 -4.7zM102.8 170.0h5.5l-2.8 -4.7zM227.9 229.7h5.5l-2.8 -4.7zM139.4 173.2h5.5l-2.8 -4.7zM85.2 188.9h5.5l-2.8 -4.7zM278.8 221.8h5.5l-2.8 -4.7zM152.6 208.0h5.5l-2.8 -4.7zM95.7 179.4h5.5l-2.8 -4.7zM296.0 230.5h5.5l-2.8 -4.7zM151.9 177.6h5.5l-2.8 -4.7zM195.4 214.0h5.5l-2.8 -4.7zM96.8 172.2h5.5l-2.8 -4.7zM313.0 226.4h5.5l-2.8 -4.7zM64.1 184.6h5.5l-2.8 -4.7zM77.4 207.0h5.5l-2.8 -4.7zM255.6 204.8h5.5l-2.8 -4.7zM109.3 211.6h5.5l-2.8 -4.7zM299.8 214.1h5.5l-2.8 -4.7zM68.2 191.1h5.5l-2.8 -4.7zM201.4 225.1h5.5l-2.8 -4.7zM214.5 204.0h5.5l-2.8 -4.7zM98.7 198.5h5.5l-2.8 -4.7zM186.5 176.5h5.5l-2.8 -4.7zM138.8 188.6h5.5l-2.8 -4.7zM66.9 157.3h5.5l-2.8 -4.7zM123.6 169.7h5.5l-2.8 -4.7zM150.6 187.3h5.5l-2.8 -4.7zM71.9 185.8h5.5l-2.8 -4.7zM123.8 191.8h5.5l-2.8 -4.7zM100.1 210.2h5.5l-2.8 -4.7zM128.4 222.6h5.5l-2.8 -4.7zM68.8 221.2h5.5l-2.8 -4.7zM179.9 155.9h5.5l-2.8 -4.7zM156.0 209.0h5.5l-2.8 -4.7zM199.7 202.1h5.5l-2.8 -4.7zM213.3 213.1h5.5l-2.8 -4.7zM195.0 169.6h5.5l-2.8 -4.7zM214.8 231.4h5.5l-2.8 -4.7zM49.1 199.2h5.5l-2.8 -4.7zM101.8 191.9h5.5l-2.8 -4.7zM229.4 223.9h5.5l-2.8 -4.7zM101.4 207.8h5.5l-2.8 -4.7zM112.7 225.6h5.5l-2.8 -4.7zM42.1 154.2h5.5l-2.8 -4.7zM135.0 186.3h5.5l-2.8 -4.7zM151.4 161.6h5.5l-2.8 -4.7zM171.9 199.9h5.5l-2.8 -4.7zM312.2 223.1h5.5l-2.8 -4.7zM168.0 163.0h5.5l-2.8 -4.7zM186.8 213.8h5.5l-2.8 -4.7zM153.1 166.3h5.5l-2.8 -4.7zM108.3 227.2h5.5l-2.8 -4.7zM255.2 219.9h5.5l-2.8 -4.7zM142.8 201.4h5.5l-2.8 -4.7zM67.8 181.4h5.5l-2.8 -4.7zM83.1 180.2h5.5l-2.8 -4.7zM123.5 160.3h5.5l-2.8 -4.7zM229.8 218.8h5.5l-2.8 -4.7zM241.0 203.4h5.5l-2.8 -4.7zM212.3 201.6h5.5l-2.8 -4.7zM165.9 208.9h5.5l-2.8 -4.7zM100.3 206.3h5.5l-2.8 -4.7zM308.9 228.2h5.5l-2.8 -4.7zM253.6 220.9h5.5l-2.8 -4.7zM224.3 215.2h5.5l-2.8 -4.7zM107.1 169.3h5.5l-2.8 -4.7zM124.3 205.0h5.5l-2.8 -4.7zM251.5 191.6h5.5l-2.8 -4.7zM152.9 223.2h5.5l-2.8 -4.7zM40.1 180.7h5.5l-2.8 -4.7zM47.6 150.9h5.5l-2.8 -4.7zM165.4 157.5h5.5l-2.8 -4.7zM133.8 187.0h5.5l-2.8 -4.7zM46.9 198.9h5.5l-2.8 -4.7zM38.3 162.8h5.5l-2.8 -4.7zM69.8 214.7h5.5l-2.8 -4.7zM252.3 200.9h5.5l-2.8 -4.7zM36.5 187.1h5.5l-2.8 -4.7zM255.5 208.7h5.5l-2.8 -4.7zM181.3 217.1h5.5l-2.8 -4.7zM272.9 230.9h5.5l-2.8 -4.7zM312.1 226.5h5.5l-2.8 -4.7zM171.8 196.2h5.5l-2.8 -4.7zM219.7 215.5h5.5l-2.8 -4.7zM78.8 161.4h5.5l-2.8 -4.7zM307.6 221.5h5.5l-2.8 -4.7zM98.8 186.1h5.5l-2.8 -4.7zM63.1 155.1h5.5l-2.8 -4.7zM73.2 175.6h5.5l-2.8 -4.7zM243.0 229.9h5.5l-2.8 -4.7zM136.7 158.3h5.5l-2.8 -4.7zM308.6 230.0h5.5l-2.8 -4.7zM53.2 201.6h5.5l-2.8 -4.7zM73.1 204.9h5.5l-2.8 -4.7zM38.1 142.8h5.5l-2.8 -4.7zM72.5 153.6h5.5l-2.8 -4.7zM186.7 195.7h5.5l-2.8 -4.7zM152.8 201.5h5.5l-2.8 -4.7zM112.4 204.5h5.5l-2.8 -4.7zM243.4 217.7h5.5l-2.8 -4.7zM195.8 156.0h5.5l-2.8 -4.7zM298.8 223.5h5.5l-2.8 -4.7zM54.2 231.8h5.5l-2.8 -4.7zM193.6 222.4h5.5l-2.8 -4.7zM159.8 169.9h5.5l-2.8 -4.7zM48.7 193.2h5.5l-2.8 -4.7zM139.3 196.6h5.5l-2.8 -4.7zM48.4 204.2h5.5l-2.8 -4.7zM111.6 202.0h5.5l-2.8 -4.7zM296.7 227.1h5.5l-2.8 -4.7zM224.2 192.3h5.5l-2.8 -4.7zM186.9 202.9h5.5l-2.8 -4.7zM104.1 180.5h5.5l-2.8 -4.7zM63.7 180.0h5.5l-2.8 -4.7zM171.1 203.3h5.5l-2.8 -4.7zM41.1 202.2h5.5l-2.8 -4.7zM152.5 161.7h5.5l-2.8 -4.7zM297.8 226.6h5.5l-2.8 -4.7zM94.5 179.7h5.5l-2.8 -4.7zM141.2 204.1h5.5l-2.8 -4.7zM171.8 179.3h5.5l-2.8 -4.7zM198.6 195.3h5.5l-2.8 -4.7zM83.6 213.5h5.5l-2.8 -4.7zM210.0 209.0h5.5l-2.8 -4.7zM305.2 228.4h5.5l-2.8 -4.7zM107.9 212.6h5.5l-2.8 -4.7zM158.8 194.2h5.5l-2.8 -4.7zM48.2 179.3h5.5l-2.8 -4.7zM210.5 208.7h5.5l-2.8 -4.7zM128.7 186.4h5.5l-2.8 -4.7zM37.1 201.1h5.5l-2.8 -4.7zM150.5 218.4h5.5l-2.8 -4.7zM166.7 224.3h5.5l-2.8 -4.7zM253.3 220.7h5.5l-2.8 -4.7zM54.4 179.5h5.5l-2.8 -4.7zM113.3 187.1h5.5l-2.8 -4.7zM238.4 184.0h5.5l-2.8 -4.7zM40.5 174.3h5.5l-2.8 -4.7zM66.0 144.1h5.5l-2.8 -4.7zM158.9 196.9h5.5l-2.8 -4.7zM283.4 223.7h5.5l-2.8 -4.7zM276.8 227.6h5.5l-2.8 -4.7zM63.6 167.3h5.5l-2.8 -4.7zM222.7 219.2h5.5l-2.8 -4.7zM201.1 209.6h5.5l-2.8 -4.7zM271.3 223.7h5.5l-2.8 -4.7zM112.4 159.4h5.5l-2.8 -4.7zM37.2 156.8h5.5l-2.8 -4.7zM230.5 183.1h5.5l-2.8 -4.7zM226.0 231.5h5.5l-2.8 -4.7zM77.7 183.5h5.5l-2.8 -4.7zM105.2 213.9h5.5l-2.8 -4.7zM212.1 188.0h5.5l-2.8 -4.7zM225.8 180.7h5.5l-2.8 -4.7zM152.0 163.4h5.5l-2.8 -4.7zM160.7 168.2h5.5l-2.8 -4.7zM46.1 224.6h5.5l-2.8 -4.7zM67.1 184.7h5.5l-2.8 -4.7zM299.5 222.6h5.5l-2.8 -4.7zM184.5 224.0h5.5l-2.8 -4.7zM208.7 199.6h5.5l-2.8 -4.7zM243.0 225.0h5.5l-2.8 -4.7zM50.9 198.8h5.5l-2.8 -4.7zM105.0 192.3h5.5l-2.8 -4.7zM221.0 205.7h5.5l-2.8 -4.7zM127.4 187.7h5.5l-2.8 -4.7zM124.7 177.8h5.5l-2.8 -4.7zM41.1 180.8h5.5l-2.8 -4.7zM92.4 199.9h5.5l-2.8 -4.7zM136.7 198.5h5.5l-2.8 -4.7zM133.0 215.7h5.5l-2.8 -4.7zM189.2 225.3h5.5l-2.8 -4.7zM249.4 220.6h5.5l-2.8 -4.7zM129.9 207.8h5.5l-2.8 -4.7zM85.0 181.9h5.5l-2.8 -4.7zM185.4 214.7h5.5l-2.8 -4.7zM138.9 171.9h5.5l-2.8 -4.7zM132.8 171.2h5.5l-2.8 -4.7zM99.2 194.7h5.5l-2.8 -4.7zM52.2 152.3h5.5l-2.8 -4.7zM310.8 227.8h5.5l-2.8 -4.7zM302.1 224.6h5.5l-2.8 -4.7zM226.1 190.4h5.5l-2.8 -4.7zM253.2 230.5h5.5l-2.8 -4.7zM315.9 225.7h5.5l-2.8 -4.7zM35.7 184.9h5.5l-2.8 -4.7zM79.3 197.9h5.5l-2.8 -4.7zM56.2 168.5h5.5l-2.8 -4.7zM126.5 192.2h5.5l-2.8 -4.7zM192.0 223.7h5.5l-2.8 -4.7zM220.1 189.4h5.5l-2.8 -4.7zM312.6 226.5h5.5l-2.8 -4.7zM188.4 183.5h5.5l-2.8 -4.7zM38.9 177.6h5.5l-2.8 -4.7zM241.2 222.9h5.5l-2.8 -4.7zM82.4 165.8h5.5l-2.8 -4.7zM43.0 174.3h5.5l-2.8 -4.7zM180.6 178.5h5.5l-2.8 -4.7zM195.2 182.0h5.5l-2.8 -4.7zM128.8 198.0h5.5l-2.8 -4.7zM152.3 174.7h5.5l-2.8 -4.7zM180.5 199.4h5.5l-2.8 -4.7zM142.3 184.2h5.5l-2.8 -4.7zM190.2 209.0h5.5l-2.8 -4.7zM277.3 229.3h5.5l-2.8 -4.7zM38.8 194.4h5.5l-2.8 -4.7zM311.6 232.5h5.5l-2.8 -4.7zM179.7 168.1h5.5l-2.8 -4.7zM213.5 221.5h5.5l-2.8 -4.7zM158.9 197.0h5.5l-2.8 -4.7zM103.3 154.0h5.5l-2.8 -4.7zM168.7 186.5h5.5l-2.8 -4.7zM51.8 151.6h5.5l-2.8 -4.7zM141.4 212.8h5.5l-2.8 -4.7zM229.0 225.4h5.5l-2.8 -4.7zM185.1 198.4h5.5l-2.8 -4.7zM197.8 164.0h5.5l-2.8 -4.7zM45.5 160.0h5.5l-2.8 -4.7zM157.9 220.9h5.5l-2.8 -4.7zM180.9 179.2h5.5l-2.8 -4.7zM39.3 157.7h5.5l-2.8 -4.7zM82.8 154.6h5.5l-2.8 -4.7zM225.4 193.0h5.5l-2.8 -4.7zM158.4 198.5h5.5l-2.8 -4.7zM150.5 206.5h5.5l-2.8 -4.7zM139.4 220.0h5.5l-2.8 -4.7zM238.5 224.8h5.5l-2.8 -4.7zM250.4 212.8h5.5l-2.8 -4.7zM54.6 173.4h5.5l-2.8 -4.7zM64.0 195.2h5.5l-2.8 -4.7zM64.1 196.1h5.5l-2.8 -4.7zM64.2 191.4h5.5l-2.8 -4.7zM195.5 183.3h5.5l-2.8 -4.7zM252.9 202.5h5.5l-2.8 -4.7zM102.8 174.8h5.5l-2.8 -4.7zM77.6 147.5h5.5l-2.8 -4.7zM102.0 216.6h5.5l-2.8 -4.7zM157.1 216.7h5.5l-2.8 -4.7zM268.3 229.0h5.5l-2.8 -4.7zM92.8 201.9h5.5l-2.8 -4.7zM209.9 200.2h5.5l-2.8 -4.7zM163.1 210.9h5.5l-2.8 -4.7zM129.3 205.0h5.5l-2.8 -4.7zM182.9 212.7h5.5l-2.8 -4.7zM257.5 180.2h5.5l-2.8 -4.7zM113.6 199.6h5.5l-2.8 -4.7zM163.9 222.6h5.5l-2.8 -4.7zM255.0 219.8h5.5l-2.8 -4.7zM154.4 216.5h5.5l-2.8 -4.7zM302.5 231.3h5.5l-2.8 -4.7zM258.3 219.3h5.5l-2.8 -4.7zM113.8 212.1h5.5l-2.8 -4.7zM152.6 163.4h5.5l-2.8 -4.7zM244.2 208.9h5.5l-2.8 -4.7zM130.3 174.2h5.5l-2.8 -4.7zM154.6 170.9h5.5l-2.8 -4.7zM170.5 189.9h5.5l-2.8 -4.7zM186.5 183.6h5.5l-2.8 -4.7zM194.6 168.9h5.5l-2.8 -4.7zM167.7 162.9h5.5l-2.8 -4.7zM161.9 160.4h5.5l-2.8 -4.7zM243.1 206.1h5.5l-2.8 -4.7zM39.9 161.9h5.5l-2.8 -4.7zM139.8 200.6h5.5l-2.8 -4.7zM159.6 206.0h5.5l-2.8 -4.7zM182.8 225.9h5.5l-2.8 -4.7zM92.9 162.9h5.5l-2.8 -4.7zM62.8 155.1h5.5l-2.8 -4.7zM63.3 197.9h5.5l-2.8 -4.7zM55.3 166.1h5.5l-2.8 -4.7zM239.8 200.6h5.5l-2.8 -4.7zM306.1 221.2h5.5l-2.8 -4.7zM188.0 189.3h5.5l-2.8 -4.7zM128.0 188.1h5.5l-2.8 -4.7zM113.1 210.8h5.5l-2.8 -4.7zM157.8 160.7h5.5l-2.8 -4.7zM105.7 170.0h5.5l-2.8 -4.7zM35.7 156.2h5.5l-2.8 -4.7zM135.1 162.1h5.5l-2.8 -4.7zM223.8 219.3h5.5l-2.8 -4.7zM79.3 155.8h5.5l-2.8 -4.7zM169.3 232.0h5.5l-2.8 -4.7zM187.4 163.5h5.5l-2.8 -4.7zM51.6 149.8h5.5l-2.8 -4.7zM153.2 180.3h5.5l-2.8 -4.7zM136.0 188.3h5.5l-2.8 -4.7zM71.5 162.2h5.5l-2.8 -4.7zM64.6 157.6h5.5l-2.8 -4.7zM84.6 177.0h5.5l-2.8 -4.7zM152.9 166.5h5.5l-2.8 -4.7zM220.4 193.5h5.5l-2.8 -4.7zM249.1 207.2h5.5l-2.8 -4.7zM55.5 171.7h5.5l-2.8 -4.7zM128.1 174.2h5.5l-2.8 -4.7zM278.7 226.1h5.5l-2.8 -4.7zM100.2 174.4h5.5l-2.8 -4.7zM316.7 231.1h5.5l-2.8 -4.7zM193.4 167.4h5.5l-2.8 -4.7zM315.9 227.9h5.5l-2.8 -4.7zM80.5 177.7h5.5l-2.8 -4.7zM186.9 180.7h5.5l-2.8 -4.7zM101.5 181.9h5.5l-2.8 -4.7zM184.0 226.3h5.5l-2.8 -4.7zM141.8 170.9h5.5l-2.8 -4.7zM213.8 211.1h5.5l-2.8 -4.7zM183.8 164.6h5.5l-2.8 -4.7zM249.2 194.4h5.5l-2.8 -4.7zM131.1 185.3h5.5l-2.8 -4.7zM71.1 214.2h5.5l-2.8 -4.7zM78.9 227.6h5.5l-2.8 -4.7zM102.5 183.4h5.5l-2.8 -4.7zM54.0 190.7h5.5l-2.8 -4.7zM36.4 200.8h5.5l-2.8 -4.7zM183.1 169.7h5.5l-2.8 -4.7zM256.1 204.8h5.5l-2.8 -4.7zM190.8 218.7h5.5l-2.8 -4.7zM160.9 223.9h5.5l-2.8 -4.7zM310.4 222.4h5.5l-2.8 -4.7zM217.7 213.6h5.5l-2.8 -4.7zM250.7 202.1h5.5l-2.8 -4.7zM170.5 218.0h5.5l-2.8 -4.7zM221.2 223.5h5.5l-2.8 -4.7zM184.9 223.8h5.5l-2.8 -4.7zM40.7 202.5h5.5l-2.8 -4.7zM104.4 230.6h5.5l-2.8 -4.7zM37.9 183.4h5.5l-2.8 -4.7zM186.9 177.7h5.5l-2.8 -4.7zM191.3 192.4h5.5l-2.8 -4.7zM216.1 192.2h5.5l-2.8 -4.7zM185.8 192.0h5.5l-2.8 -4.7zM269.6 224.7h5.5l-2.8 -4.7zM113.9 179.7h5.5l-2.8 -4.7zM254.8 211.3h5.5l-2.8 -4.7zM48.4 197.1h5.5l-2.8 -4.7zM195.9 220.2h5.5l-2.8 -4.7zM182.0 178.3h5.5l-2.8 -4.7zM215.5 206.7h5.5l-2.8 -4.7zM192.1 179.2h5.5l-2.8 -4.7zM243.6 217.9h5.5l-2.8 -4.7zM141.5 169.2h5.5l-2.8 -4.7zM188.3 209.0h5.5l-2.8 -4.7zM103.5 210.7h5.5l-2.8 -4.7zM215.7 187.7h5.5l-2.8 -4.7zM128.9 191.7h5.5l-2.8 -4.7zM40.7 182.5h5.5l-2.8 -4.7zM226.9 223.0h5.5l-2.8 -4.7zM171.1 167.4h5.5l-2.8 -4.7zM76.5 203.2h5.5l-2.8 -4.7zM219.5 186.2h5.5l-2.8 -4.7zM221.4 208.0h5.5l-2.8 -4.7zM222.1 219.4h5.5l-2.8 -4.7zM153.6 193.9h5.5l-2.8 -4.7zM200.7 209.6h5.5l-2.8 -4.7zM96.1 172.4h5.5l-2.8 -4.7zM298.7 231.6h5.5l-2.8 -4.7zM131.9 212.7h5.5l-2.8 -4.7zM152.7 169.6h5.5l-2.8 -4.7zM228.2 199.1h5.5l-2.8 -4.7zM303.3 227.3h5.5l-2.8 -4.7zM171.3 167.6h5.5l-2.8 -4.7zM42.9 223.0h5.5l-2.8 -4.7zM94.5 208.3h5.5l-2.8 -4.7zM161.0 220.2h5.5l-2.8 -4.7zM40.3 179.3h5.5l-2.8 -4.7zM168.7 167.9h5.5l-2.8 -4.7zM94.5 220.0h5.5l-2.8 -4.7zM194.1 170.2h5.5l-2.8 -4.7zM101.5 205.4h5.5l-2.8 -4.7zM248.1 205.9h5.5l-2.8 -4.7zM269.3 233.0h5.5l-2.8 -4.7zM66.2 195.4h5.5l-2.8 -4.7zM121.3 199.7h5.5l-2.8 -4.7zM129.5 185.5h5.5l-2.8 -4.7zM38.3 167.0h5.5l-2.8 -4.7zM114.1 175.6h5.5l-2.8 -4.7zM104.7 203.8h5.5l-2.8 -4.7zM68.5 212.5h5.5l-2.8 -4.7zM169.5 222.5h5.5l-2.8 -4.7zM42.1 165.1h5.5l-2.8 -4.7zM245.2 222.7h5.5l-2.8 -4.7zM226.5 194.3h5.5l-2.8 -4.7zM200.4 170.6h5.5l-2.8 -4.7zM134.6 160.9h5.5l-2.8 -4.7zM267.8 224.7h5.5l-2.8 -4.7zM308.1 231.2h5.5l-2.8 -4.7zM93.3 170.8h5.5l-2.8 -4.7zM39.2 186.4h5.5l-2.8 -4.7zM100.9 213.3h5.5l-2.8 -4.7zM213.2 182.9h5.5l-2.8 -4.7zM121.0 216.7h5.5l-2.8 -4.7zM201.6 212.3h5.5l-2.8 -4.7zM126.0 199.1h5.5l-2.8 -4.7zM226.9 203.3h5.5l-2.8 -4.7zM189.0 223.8h5.5l-2.8 -4.7zM167.5 186.1h5.5l-2.8 -4.7zM129.7 161.8h5.5l-2.8 -4.7zM102.0 160.5h5.5l-2.8 -4.7zM201.3 222.6h5.5l-2.8 -4.7zM101.8 196.8h5.5l-2.8 -4.7zM185.5 220.4h5.5l-2.8 -4.7zM230.0 218.0h5.5l-2.8 -4.7zM123.0 188.7h5.5l-2.8 -4.7zM92.9 170.5h5.5l-2.8 -4.7zM301.5 228.0h5.5l-2.8 -4.7zM50.0 207.5h5.5l-2.8 -4.7zM299.0 224.4h5.5l-2.8 -4.7zM268.6 214.8h5.5l-2.8 -4.7zM104.8 156.5h5.5l-2.8 -4.7zM187.5 191.7h5.5l-2.8 -4.7zM93.7 224.9h5.5l-2.8 -4.7zM46.1 160.4h5.5l-2.8 -4.7zM102.2 143.4h5.5l-2.8 -4.7zM77.1 188.0h5.5l-2.8 -4.7zM200.2 196.2h5.5l-2.8 -4.7zM42.0 164.6h5.5l-2.8 -4.7zM78.1 157.5h5.5l-2.8 -4.7zM96.7 188.2h5.5l-2.8 -4.7zM136.2 231.2h5.5l-2.8 -4.7zM166.5 194.5h5.5l-2.8 -4.7zM39.3 153.1h5.5l-2.8 -4.7zM63.6 207.1h5.5l-2.8 -4.7zM80.3 199.0h5.5l-2.8 -4.7zM181.9 172.1h5.5l-2.8 -4.7zM200.9 182.9h5.5l-2.8 -4.7zM188.4 165.2h5.5l-2.8 -4.7zM188.3 184.5h5.5l-2.8 -4.7zM184.1 221.0h5.5l-2.8 -4.7zM36.1 202.9h5.5l-2.8 -4.7zM84.8 210.9h5.5l-2.8 -4.7zM139.0 188.6h5.5l-2.8 -4.7zM298.3 230.5h5.5l-2.8 -4.7zM171.9 212.5h5.5l-2.8 -4.7zM255.7 208.0h5.5l-2.8 -4.7zM258.3 225.8h5.5l-2.8 -4.7zM166.6 174.7h5.5l-2.8 -4.7zM297.4 210.5h5.5l-2.8 -4.7zM181.6 214.5h5.5l-2.8 -4.7zM223.5 203.9h5.5l-2.8 -4.7zM156.9 196.4h5.5l-2.8 -4.7zM192.6 205.4h5.5l-2.8 -4.7zM104.3 172.9h5.5l-2.8 -4.7zM279.3 222.3h5.5l-2.8 -4.7zM75.1 154.0h5.5l-2.8 -4.7zM225.8 193.4h5.5l-2.8 -4.7zM161.6 173.6h5.5l-2.8 -4.7zM151.2 228.2h5.5l-2.8 -4.7zM81.4 145.3h5.5l-2.8 -4.7zM69.4 211.2h5.5l-2.8 -4.7zM77.9 163.5h5.5l-2.8 -4.7zM172.1 208.7h5.5l-2.8 -4.7zM240.2 194.2h5.5l-2.8 -4.7zM92.5 178.6h5.5l-2.8 -4.7zM54.6 210.2h5.5l-2.8 -4.7zM280.4 230.4h5.5l-2.8 -4.7zM215.3 207.2h5.5l-2.8 -4.7zM78.2 197.9h5.5l-2.8 -4.7zM237.9 231.6h5.5l-2.8 -4.7zM181.9 171.7h5.5l-2.8 -4.7zM216.3 201.7h5.5l-2.8 -4.7zM279.6 232.1h5.5l-2.8 -4.7zM41.8 170.4h5.5l-2.8 -4.7zM280.4 223.8h5.5l-2.8 -4.7zM122.0 191.9h5.5l-2.8 -4.7zM111.5 192.9h5.5l-2.8 -4.7zM111.2 200.2h5.5l-2.8 -4.7zM278.1 228.8h5.5l-2.8 -4.7zM240.5 214.6h5.5l-2.8 -4.7zM196.5 214.9h5.5l-2.8 -4.7zM92.7 179.8h5.5l-2.8 -4.7zM101.3 205.1h5.5l-2.8 -4.7zM67.3 153.7h5.5l-2.8 -4.7zM186.4 181.5h5.5l-2.8 -4.7zM143.4 201.8h5.5l-2.8 -4.7zM151.3 221.3h5.5l-2.8 -4.7zM217.0 230.7h5.5l-2.8 -4.7zM127.2 166.7h5.5l-2.8 -4.7zM170.7 197.8h5.5l-2.8 -4.7zM80.0 206.6h5.5l-2.8 -4.7zM283.0 231.6h5.5l-2.8 -4.7zM171.4 172.9h5.5l-2.8 -4.7zM142.0 159.6h5.5l-2.8 -4.7zM75.3 225.8h5.5l-2.8 -4.7zM130.9 195.3h5.5l-2.8 -4.7zM39.7 216.7h5.5l-2.8 -4.7zM303.5 228.2h5.5l-2.8 -4.7zM241.9 186.6h5.5l-2.8 -4.7zM70.3 222.3h5.5l-2.8 -4.7zM189.2 220.8h5.5l-2.8 -4.7zM226.3 214.1h5.5l-2.8 -4.7zM272.5 225.5h5.5l-2.8 -4.7zM185.0 161.8h5.5l-2.8 -4.7zM164.7 161.3h5.5l-2.8 -4.7zM186.5 220.1h5.5l-2.8 -4.7zM78.2 174.8h5.5l-2.8 -4.7zM243.4 209.8h5.5l-2.8 -4.7zM75.9 157.1h5.5l-2.8 -4.7zM220.9 214.2h5.5l-2.8 -4.7zM273.6 232.4h5.5l-2.8 -4.7zM171.7 188.1h5.5l-2.8 -4.7zM40.3 203.9h5.5l-2.8 -4.7zM160.2 184.2h5.5l-2.8 -4.7zM83.8 158.6h5.5l-2.8 -4.7zM104.6 201.1h5.5l-2.8 -4.7zM127.6 201.3h5.5l-2.8 -4.7zM224.8 201.3h5.5l-2.8 -4.7zM107.2 172.2h5.5l-2.8 -4.7zM72.1 153.0h5.5l-2.8 -4.7zM166.1 177.4h5.5l-2.8 -4.7zM154.8 194.9h5.5l-2.8 -4.7zM198.5 216.8h5.5l-2.8 -4.7zM156.2 163.8h5.5l-2.8 -4.7zM33.8 143.1h5.5l-2.8 -4.7zM156.0 203.6h5.5l-2.8 -4.7zM48.3 193.3h5.5l-2.8 -4.7zM76.5 174.8h5.5l-2.8 -4.7zM141.3 230.8h5.5l-2.8 -4.7zM228.5 193.7h5.5l-2.8 -4.7zM244.8 210.1h5.5l-2.8 -4.7zM93.7 181.1h5.5l-2.8 -4.7zM190.2 214.2h5.5l-2.8 -4.7zM127.6 202.5h5.5l-2.8 -4.7zM38.2 200.4h5.5l-2.8 -4.7zM40.3 216.5h5.5l-2.8 -4.7zM195.6 197.2h5.5l-2.8 -4.7zM81.3 192.8h5.5l-2.8 -4.7zM223.4 185.2h5.5l-2.8 -4.7zM84.5 180.4h5.5l-2.8 -4.7zM288.5 230.7h5.5l-2.8 -4.7zM39.0 207.9h5.5l-2.8 -4.7zM284.6 231.2h5.5l-2.8 -4.7zM150.3 162.0h5.5l-2.8 -4.7zM105.9 176.0h5.5l-2.8 -4.7zM224.9 206.6h5.5l-2.8 -4.7zM243.2 195.1h5.5l-2.8 -4.7zM242.3 196.2h5.5l-2.8 -4.7zM155.2 158.3h5.5l-2.8 -4.7zM172.0 189.9h5.5l-2.8 -4.7zM142.7 215.4h5.5l-2.8 -4.7zM45.1 220.3h5.5l-2.8 -4.7zM65.2 155.2h5.5l-2.8 -4.7zM166.1 217.2h5.5l-2.8 -4.7zM110.6 156.3h5.5l-2.8 -4.7zM165.9 164.5h5.5l-2.8 -4.7zM201.8 174.4h5.5l-2.8 -4.7zM79.1 213.9h5.5l-2.8 -4.7zM186.8 214.8h5.5l-2.8 -4.7zM43.1 147.8h5.5l-2.8 -4.7zM222.8 189.6h5.5l-2.8 -4.7zM208.7 205.5h5.5l-2.8 -4.7zM194.3 197.2h5.5l-2.8 -4.7zM129.0 207.4h5.5l-2.8 -4.7zM221.9 214.5h5.5l-2.8 -4.7zM77.0 190.8h5.5l-2.8 -4.7zM45.5 214.0h5.5l-2.8 -4.7zM184.8 214.9h5.5l-2.8 -4.7zM221.1 198.3h5.5l-2.8 -4.7zM240.6 203.3h5.5l-2.8 -4.7zM296.3 222.3h5.5l-2.8 -4.7zM269.8 228.2h5.5l-2.8 -4.7zM50.6 164.5h5.5l-2.8 -4.7zM192.3 168.5h5.5l-2.8 -4.7zM153.3 181.2h5.5l-2.8 -4.7zM139.8 184.7h5.5l-2.8 -4.7zM179.4 192.6h5.5l-2.8 -4.7zM228.0 225.5h5.5l-2.8 -4.7zM103.9 188.9h5.5l-2.8 -4.7zM181.8 192.2h5.5l-2.8 -4.7zM252.4 201.1h5.5l-2.8 -4.7zM250.8 217.0h5.5l-2.8 -4.7zM105.6 175.8h5.5l-2.8 -4.7zM95.7 190.5h5.5l-2.8 -4.7zM252.9 194.2h5.5l-2.8 -4.7zM73.0 142.4h5.5l-2.8 -4.7zM80.6 202.3h5.5l-2.8 -4.7zM184.1 209.6h5.5l-2.8 -4.7zM99.5 175.6h5.5l-2.8 -4.7zM39.5 186.3h5.5l-2.8 -4.7zM165.1 185.1h5.5l-2.8 -4.7zM78.9 160.6h5.5l-2.8 -4.7zM248.3 211.5h5.5l-2.8 -4.7zM226.5 190.5h5.5l-2.8 -4.7zM244.7 192.9h5.5l-2.8 -4.7zM78.1 156.6h5.5l-2.8 -4.7zM228.2 221.8h5.5l-2.8 -4.7zM103.1 186.8h5.5l-2.8 -4.7zM81.5 162.9h5.5l-2.8 -4.7zM159.6 162.3h5.5l-2.8 -4.7zM80.4 204.2h5.5l-2.8 -4.7zM184.6 162.6h5.5l-2.8 -4.7zM172.5 219.4h5.5l-2.8 -4.7zM230.5 229.4h5.5l-2.8 -4.7zM80.6 166.6h5.5l-2.8 -4.7zM305.2 225.2h5.5l-2.8 -4.7zM315.4 221.0h5.5l-2.8 -4.7zM211.4 184.9h5.5l-2.8 -4.7zM128.1 168.2h5.5l-2.8 -4.7zM85.1 178.0h5.5l-2.8 -4.7zM104.7 169.2h5.5l-2.8 -4.7zM78.3 200.1h5.5l-2.8 -4.7zM229.2 180.1h5.5l-2.8 -4.7zM99.6 220.3h5.5l-2.8 -4.7zM166.3 201.2h5.5l-2.8 -4.7zM75.3 177.2h5.5l-2.8 -4.7zM37.8 184.4h5.5l-2.8 -4.7zM250.0 189.6h5.5l-2.8 -4.7zM77.6 208.8h5.5l-2.8 -4.7zM317.5 226.4h5.5l-2.8 -4.7zM82.0 200.9h5.5l-2.8 -4.7zM256.7 220.7h5.5l-2.8 -4.7zM212.8 206.6h5.5l-2.8 -4.7zM184.5 183.4h5.5l-2.8 -4.7zM69.4 161.8h5.5l-2.8 -4.7zM201.2 219.7h5.5l-2.8 -4.7zM51.3 189.4h5.5l-2.8 -4.7zM185.9 222.1h5.5l-2.8 -4.7zM97.6 205.2h5.5l-2.8 -4.7zM155.9 204.0h5.5l-2.8 -4.7zM82.5 230.6h5.5l-2.8 -4.7zM64.7 204.9h5.5l-2.8 -4.7zM192.5 192.8h5.5l-2.8 -4.7zM42.1 183.4h5.5l-2.8 -4.7zM103.4 151.9h5.5l-2.8 -4.7zM55.3 216.9h5.5l-2.8 -4.7zM256.3 218.3h5.5l-2.8 -4.7zM257.7 230.2h5.5l-2.8 -4.7zM110.0 192.2h5.5l-2.8 -4.7zM136.2 170.9h5.5l-2.8 -4.7zM288.5 232.5h5.5l-2.8 -4.7zM222.7 210.3h5.5l-2.8 -4.7zM137.8 225.4h5.5l-2.8 -4.7zM52.7 168.5h5.5l-2.8 -4.7zM225.5 214.3h5.5l-2.8 -4.7zM227.6 193.9h5.5l-2.8 -4.7zM267.7 215.3h5.5l-2.8 -4.7zM228.3 219.5h5.5l-2.8 -4.7zM186.2 212.7h5.5l-2.8 -4.7zM134.0 217.7h5.5l-2.8 -4.7zM310.6 231.0h5.5l-2.8 -4.7zM168.2 172.9h5.5l-2.8 -4.7zM65.5 216.1h5.5l-2.8 -4.7zM101.9 182.7h5.5l-2.8 -4.7zM160.0 198.0h5.5l-2.8 -4.7zM65.1 157.8h5.5l-2.8 -4.7zM239.1 214.8h5.5l-2.8 -4.7zM63.8 180.8h5.5l-2.8 -4.7zM137.1 203.8h5.5l-2.8 -4.7zM92.2 157.6h5.5l-2.8 -4.7zM255.6 240.4h5.5l-2.8 -4.7zM266.4 244.3h5.5l-2.8 -4.7zM244.4 252.6h5.5l-2.8 -4.7zM307.6 247.6h5.5l-2.8 -4.7zM56.9 119.1h5.5l-2.8 -4.7zM51.6 126.1h5.5l-2.8 -4.7zM41.9 129.4h5.5l-2.8 -4.7zM37.5 136.3h5.5l-2.8 -4.7zM41.9 134.1h5.5l-2.8 -4.7zM42.5 137.0h5.5l-2.8 -4.7zM52.8 136.6h5.5l-2.8 -4.7zM57.2 136.6h5.5l-2.8 -4.7zM39.0 141.4h5.5l-2.8 -4.7zM46.2 142.9h5.5l-2.8 -4.7zM52.0 144.3h5.5l-2.8 -4.7zM64.5 125.8h5.5l-2.8 -4.7zM67.3 125.4h5.5l-2.8 -4.7zM85.0 129.0h5.5l-2.8 -4.7zM85.7 131.9h5.5l-2.8 -4.7zM71.0 134.1h5.5l-2.8 -4.7zM69.5 138.5h5.5l-2.8 -4.7zM85.0 135.6h5.5l-2.8 -4.7zM68.2 140.7h5.5l-2.8 -4.7zM101.8 125.6h5.5l-2.8 -4.7zM107.2 124.9h5.5l-2.8 -4.7zM92.2 136.0h5.5l-2.8 -4.7zM92.5 140.7h5.5l-2.8 -4.7zM105.3 142.9h5.5l-2.8 -4.7zM98.8 145.8h5.5l-2.8 -4.7zM129.2 128.2h5.5l-2.8 -4.7zM124.2 134.4h5.5l-2.8 -4.7zM129.2 136.0h5.5l-2.8 -4.7zM133.8 140.7h5.5l-2.8 -4.7zM135.2 142.4h5.5l-2.8 -4.7zM123.5 146.5h5.5l-2.8 -4.7zM123.5 152.3h5.5l-2.8 -4.7zM132.2 153.6h5.5l-2.8 -4.7zM140.6 152.0h5.5l-2.8 -4.7zM151.2 147.8h5.5l-2.8 -4.7zM160.8 148.1h5.5l-2.8 -4.7zM171.2 148.1h5.5l-2.8 -4.7zM170.4 149.8h5.5l-2.8 -4.7zM153.8 154.3h5.5l-2.8 -4.7zM179.6 143.6h5.5l-2.8 -4.7zM182.3 146.0h5.5l-2.8 -4.7zM195.7 146.0h5.5l-2.8 -4.7zM183.3 154.3h5.5l-2.8 -4.7zM188.3 153.1h5.5l-2.8 -4.7zM217.8 158.3h5.5l-2.8 -4.7zM226.2 161.4h5.5l-2.8 -4.7zM229.7 161.8h5.5l-2.8 -4.7zM210.3 170.7h5.5l-2.8 -4.7zM218.6 168.8h5.5l-2.8 -4.7zM222.8 169.5h5.5l-2.8 -4.7zM229.7 170.7h5.5l-2.8 -4.7zM212.8 174.8h5.5l-2.8 -4.7zM212.8 178.1h5.5l-2.8 -4.7zM241.2 177.2h5.5l-2.8 -4.7zM243.7 180.0h5.5l-2.8 -4.7zM247.2 174.8h5.5l-2.8 -4.7zM248.8 178.3h5.5l-2.8 -4.7zM256.9 173.7h5.5l-2.8 -4.7zM286.6 178.8h5.5l-2.8 -4.7zM284.9 200.4h5.5l-2.8 -4.7zM267.9 203.2h5.5l-2.8 -4.7zM284.9 207.4h5.5l-2.8 -4.7zM295.8 196.2h5.5l-2.8 -4.7zM304.6 198.1h5.5l-2.8 -4.7zM314.4 197.4h5.5l-2.8 -4.7zM311.1 202.1h5.5l-2.8 -4.7zM299.4 207.4h5.5l-2.8 -4.7zM311.1 209.0h5.5l-2.8 -4.7z" fill="#00A087"/>
<g fill="#FF8C00"><circle cx="242.3" cy="261.5" r="2.1"/><circle cx="243.4" cy="264.4" r="2.1"/><circle cx="258.5" cy="261.0" r="2.1"/><circle cx="241.4" cy="259.2" r="2.1"/><circle cx="257.9" cy="263.6" r="2.1"/><circle cx="257.7" cy="261.7" r="2.1"/><circle cx="260.6" cy="261.7" r="2.1"/><circle cx="251.1" cy="262.5" r="2.1"/><circle cx="257.9" cy="259.0" r="2.1"/><circle cx="256.8" cy="263.1" r="2.1"/><circle cx="248.5" cy="260.0" r="2.1"/><circle cx="250.4" cy="260.7" r="2.1"/><circle cx="252.2" cy="260.0" r="2.1"/><circle cx="260.5" cy="265.0" r="2.1"/><circle cx="259.5" cy="262.0" r="2.1"/><circle cx="256.4" cy="262.9" r="2.1"/><circle cx="262.7" cy="262.7" r="2.1"/><circle cx="243.0" cy="264.8" r="2.1"/><circle cx="247.5" cy="261.4" r="2.1"/><circle cx="242.0" cy="262.2" r="2.1"/><circle cx="252.9" cy="259.8" r="2.1"/><circle cx="253.9" cy="263.1" r="2.1"/><circle cx="261.9" cy="258.9" r="2.1"/><circle cx="242.0" cy="259.8" r="2.1"/><circle cx="243.1" cy="262.9" r="2.1"/><circle cx="259.1" cy="258.8" r="2.1"/><circle cx="245.3" cy="263.6" r="2.1"/><circle cx="241.5" cy="263.3" r="2.1"/><circle cx="255.5" cy="263.1" r="2.1"/><circle cx="247.0" cy="261.3" r="2.1"/><circle cx="256.4" cy="260.7" r="2.1"/><circle cx="246.7" cy="262.1" r="2.1"/><circle cx="254.2" cy="262.1" r="2.1"/><circle cx="260.1" cy="259.6" r="2.1"/><circle cx="251.3" cy="259.9" r="2.1"/><circle cx="256.9" cy="263.3" r="2.1"/><circle cx="240.4" cy="264.3" r="2.1"/><circle cx="253.8" cy="262.8" r="2.1"/><circle cx="247.9" cy="259.7" r="2.1"/><circle cx="247.2" cy="263.0" r="2.1"/><circle cx="253.6" cy="259.0" r="2.1"/><circle cx="252.5" cy="264.6" r="2.1"/><circle cx="261.4" cy="258.8" r="2.1"/><circle cx="262.8" cy="262.7" r="2.1"/><circle cx="246.0" cy="259.0" r="2.1"/><circle cx="246.2" cy="259.1" r="2.1"/><circle cx="253.3" cy="262.8" r="2.1"/><circle cx="260.1" cy="259.1" r="2.1"/><circle cx="240.7" cy="259.9" r="2.1"/><circle cx="246.0" cy="259.1" r="2.1"/><circle cx="245.6" cy="261.4" r="2.1"/><circle cx="242.4" cy="260.9" r="2.1"/><circle cx="256.0" cy="264.6" r="2.1"/><circle cx="242.0" cy="264.1" r="2.1"/><circle cx="250.6" cy="260.0" r="2.1"/><circle cx="261.2" cy="258.9" r="2.1"/><circle cx="252.0" cy="263.3" r="2.1"/><circle cx="255.4" cy="260.4" r="2.1"/><circle cx="252.9" cy="262.5" r="2.1"/><circle cx="259.7" cy="263.8" r="2.1"/><circle cx="253.3" cy="261.7" r="2.1"/><circle cx="250.2" cy="259.2" r="2.1"/><circle cx="253.6" cy="262.4" r="2.1"/><circle cx="242.3" cy="265.0" r="2.1"/><circle cx="246.0" cy="264.2" r="2.1"/><circle cx="260.2" cy="259.6" r="2.1"/><circle cx="257.3" cy="265.0" r="2.1"/><circle cx="240.7" cy="262.7" r="2.1"/><circle cx="253.5" cy="263.5" r="2.1"/><circle cx="242.0" cy="263.7" r="2.1"/><circle cx="245.3" cy="264.4" r="2.1"/><circle cx="247.6" cy="258.8" r="2.1"/><circle cx="243.9" cy="262.0" r="2.1"/><circle cx="247.6" cy="260.6" r="2.1"/><circle cx="242.6" cy="263.9" r="2.1"/><circle cx="261.0" cy="262.2" r="2.1"/><circle cx="255.4" cy="260.3" r="2.1"/><circle cx="254.1" cy="264.2" r="2.1"/><circle cx="250.9" cy="262.1" r="2.1"/><circle cx="249.8" cy="261.2" r="2.1"/><circle cx="252.7" cy="262.1" r="2.1"/><circle cx="252.8" cy="258.8" r="2.1"/><circle cx="254.5" cy="263.6" r="2.1"/><circle cx="255.9" cy="263.5" r="2.1"/><circle cx="261.5" cy="262.6" r="2.1"/><circle cx="259.8" cy="260.9" r="2.1"/><circle cx="262.5" cy="262.9" r="2.1"/><circle cx="251.0" cy="263.1" r="2.1"/><circle cx="261.3" cy="261.1" r="2.1"/><circle cx="241.9" cy="265.0" r="2.1"/><circle cx="240.9" cy="262.3" r="2.1"/><circle cx="244.8" cy="261.1" r="2.1"/><circle cx="262.0" cy="262.4" r="2.1"/><circle cx="252.5" cy="261.1" r="2.1"/><circle cx="240.4" cy="260.1" r="2.1"/><circle cx="260.2" cy="263.0" r="2.1"/><circle cx="247.0" cy="264.8" r="2.1"/><circle cx="242.7" cy="259.9" r="2.1"/><circle cx="252.1" cy="262.6" r="2.1"/><circle cx="262.6" cy="262.3" r="2.1"/><circle cx="256.9" cy="259.3" r="2.1"/><circle cx="241.1" cy="264.2" r="2.1"/><circle cx="254.5" cy="260.8" r="2.1"/><circle cx="277.4" cy="258.7" r="2.1"/><circle cx="281.0" cy="266.0" r="2.1"/><circle cx="282.5" cy="265.5" r="2.1"/><circle cx="288.1" cy="263.7" r="2.1"/><circle cx="271.8" cy="265.3" r="2.1"/><circle cx="283.8" cy="264.2" r="2.1"/><circle cx="288.9" cy="258.7" r="2.1"/><circle cx="286.6" cy="260.1" r="2.1"/><circle cx="282.9" cy="258.5" r="2.1"/><circle cx="272.3" cy="264.6" r="2.1"/><circle cx="288.8" cy="261.4" r="2.1"/><circle cx="291.4" cy="256.3" r="2.1"/><circle cx="289.0" cy="264.2" r="2.1"/><circle cx="289.6" cy="260.1" r="2.1"/><circle cx="269.5" cy="261.5" r="2.1"/><circle cx="286.8" cy="261.5" r="2.1"/><circle cx="274.4" cy="265.4" r="2.1"/><circle cx="271.8" cy="265.6" r="2.1"/><circle cx="281.7" cy="260.0" r="2.1"/><circle cx="282.5" cy="258.7" r="2.1"/><circle cx="288.7" cy="261.8" r="2.1"/><circle cx="282.4" cy="262.9" r="2.1"/><circle cx="273.5" cy="261.3" r="2.1"/><circle cx="280.1" cy="263.7" r="2.1"/><circle cx="280.9" cy="266.1" r="2.1"/><circle cx="287.9" cy="261.6" r="2.1"/><circle cx="275.9" cy="261.3" r="2.1"/><circle cx="281.4" cy="262.3" r="2.1"/><circle cx="280.7" cy="260.3" r="2.1"/><circle cx="288.3" cy="264.3" r="2.1"/><circle cx="275.0" cy="258.9" r="2.1"/><circle cx="269.9" cy="261.3" r="2.1"/><circle cx="277.0" cy="260.9" r="2.1"/><circle cx="273.0" cy="260.9" r="2.1"/><circle cx="284.8" cy="260.1" r="2.1"/><circle cx="274.3" cy="265.4" r="2.1"/><circle cx="283.8" cy="266.0" r="2.1"/><circle cx="281.9" cy="259.0" r="2.1"/><circle cx="281.1" cy="262.6" r="2.1"/><circle cx="290.6" cy="262.6" r="2.1"/><circle cx="277.4" cy="266.2" r="2.1"/><circle cx="280.9" cy="261.4" r="2.1"/><circle cx="286.6" cy="259.0" r="2.1"/><circle cx="285.2" cy="266.0" r="2.1"/><circle cx="280.7" cy="261.2" r="2.1"/><circle cx="288.3" cy="262.7" r="2.1"/><circle cx="272.2" cy="265.9" r="2.1"/><circle cx="273.1" cy="262.0" r="2.1"/><circle cx="288.9" cy="259.0" r="2.1"/><circle cx="271.4" cy="259.9" r="2.1"/><circle cx="277.1" cy="259.9" r="2.1"/><circle cx="285.3" cy="259.5" r="2.1"/><circle cx="282.0" cy="256.2" r="2.1"/><circle cx="289.2" cy="261.4" r="2.1"/><circle cx="273.5" cy="261.7" r="2.1"/><circle cx="279.9" cy="265.1" r="2.1"/><circle cx="284.0" cy="261.1" r="2.1"/><circle cx="271.1" cy="260.2" r="2.1"/><circle cx="290.5" cy="262.0" r="2.1"/><circle cx="285.3" cy="265.6" r="2.1"/><circle cx="281.6" cy="258.6" r="2.1"/><circle cx="276.8" cy="262.4" r="2.1"/><circle cx="279.8" cy="260.7" r="2.1"/><circle cx="285.5" cy="263.0" r="2.1"/><circle cx="280.3" cy="265.0" r="2.1"/><circle cx="275.5" cy="265.7" r="2.1"/><circle cx="286.8" cy="264.2" r="2.1"/><circle cx="280.4" cy="265.6" r="2.1"/><circle cx="270.5" cy="260.2" r="2.1"/><circle cx="280.3" cy="261.4" r="2.1"/><circle cx="273.5" cy="262.2" r="2.1"/><circle cx="276.4" cy="265.2" r="2.1"/><circle cx="280.9" cy="261.8" r="2.1"/><circle cx="278.1" cy="262.4" r="2.1"/><circle cx="277.3" cy="266.1" r="2.1"/><circle cx="289.9" cy="258.5" r="2.1"/><circle cx="288.7" cy="265.0" r="2.1"/><circle cx="284.1" cy="260.0" r="2.1"/><circle cx="275.4" cy="260.5" r="2.1"/><circle cx="286.5" cy="262.0" r="2.1"/><circle cx="278.7" cy="264.3" r="2.1"/><circle cx="289.2" cy="265.6" r="2.1"/><circle cx="281.7" cy="262.4" r="2.1"/><circle cx="277.5" cy="265.7" r="2.1"/><circle cx="280.6" cy="262.1" r="2.1"/><circle cx="284.5" cy="264.5" r="2.1"/><circle cx="289.8" cy="258.9" r="2.1"/><circle cx="281.0" cy="264.1" r="2.1"/><circle cx="271.1" cy="263.4" r="2.1"/><circle cx="286.6" cy="258.8" r="2.1"/><circle cx="290.4" cy="264.1" r="2.1"/><circle cx="288.7" cy="259.6" r="2.1"/><circle cx="284.0" cy="258.8" r="2.1"/><circle cx="283.1" cy="262.9" r="2.1"/><circle cx="289.6" cy="259.5" r="2.1"/><circle cx="287.0" cy="266.2" r="2.1"/><circle cx="271.1" cy="261.1" r="2.1"/><circle cx="277.6" cy="259.2" r="2.1"/><circle cx="273.8" cy="258.6" r="2.1"/><circle cx="282.1" cy="265.8" r="2.1"/><circle cx="286.6" cy="265.0" r="2.1"/><circle cx="287.2" cy="259.8" r="2.1"/><circle cx="281.8" cy="260.6" r="2.1"/><circle cx="283.6" cy="259.9" r="2.1"/><circle cx="277.0" cy="264.9" r="2.1"/><circle cx="287.0" cy="259.5" r="2.1"/><circle cx="270.7" cy="258.5" r="2.1"/><circle cx="271.1" cy="263.7" r="2.1"/><circle cx="278.2" cy="263.4" r="2.1"/><circle cx="283.6" cy="262.1" r="2.1"/><circle cx="291.0" cy="262.7" r="2.1"/><circle cx="280.2" cy="262.1" r="2.1"/><circle cx="280.8" cy="265.1" r="2.1"/><circle cx="270.7" cy="262.9" r="2.1"/><circle cx="289.4" cy="265.2" r="2.1"/><circle cx="272.7" cy="261.2" r="2.1"/><circle cx="286.5" cy="263.0" r="2.1"/><circle cx="278.5" cy="263.0" r="2.1"/><circle cx="290.9" cy="264.1" r="2.1"/><circle cx="281.8" cy="265.2" r="2.1"/><circle cx="270.3" cy="260.6" r="2.1"/><circle cx="290.3" cy="263.4" r="2.1"/><circle cx="276.6" cy="262.9" r="2.1"/><circle cx="284.5" cy="264.1" r="2.1"/><circle cx="276.0" cy="260.7" r="2.1"/><circle cx="285.6" cy="261.9" r="2.1"/><circle cx="271.3" cy="262.9" r="2.1"/><circle cx="273.5" cy="265.1" r="2.1"/><circle cx="277.1" cy="261.1" r="2.1"/><circle cx="274.9" cy="264.4" r="2.1"/><circle cx="284.8" cy="265.1" r="2.1"/><circle cx="287.7" cy="264.3" r="2.1"/><circle cx="283.1" cy="262.9" r="2.1"/><circle cx="271.5" cy="262.8" r="2.1"/><circle cx="277.8" cy="258.9" r="2.1"/><circle cx="286.9" cy="265.6" r="2.1"/><circle cx="277.8" cy="263.3" r="2.1"/><circle cx="274.1" cy="264.3" r="2.1"/><circle cx="280.9" cy="260.9" r="2.1"/><circle cx="289.1" cy="258.7" r="2.1"/><circle cx="269.9" cy="259.7" r="2.1"/><circle cx="289.1" cy="258.6" r="2.1"/><circle cx="279.2" cy="261.4" r="2.1"/><circle cx="281.8" cy="265.1" r="2.1"/><circle cx="289.1" cy="265.3" r="2.1"/><circle cx="276.0" cy="259.4" r="2.1"/><circle cx="288.2" cy="264.1" r="2.1"/><circle cx="281.9" cy="261.2" r="2.1"/><circle cx="280.4" cy="265.6" r="2.1"/><circle cx="274.0" cy="259.9" r="2.1"/><circle cx="287.5" cy="263.9" r="2.1"/><circle cx="270.1" cy="261.3" r="2.1"/><circle cx="280.6" cy="260.7" r="2.1"/><circle cx="290.6" cy="262.6" r="2.1"/><circle cx="278.9" cy="261.9" r="2.1"/><circle cx="289.3" cy="265.9" r="2.1"/><circle cx="275.8" cy="263.5" r="2.1"/><circle cx="288.4" cy="259.0" r="2.1"/><circle cx="281.9" cy="261.5" r="2.1"/><circle cx="286.0" cy="266.0" r="2.1"/><circle cx="269.8" cy="261.8" r="2.1"/><circle cx="284.2" cy="255.9" r="2.1"/><circle cx="284.3" cy="258.5" r="2.1"/><circle cx="291.0" cy="266.1" r="2.1"/><circle cx="270.3" cy="259.5" r="2.1"/><circle cx="274.3" cy="262.5" r="2.1"/><circle cx="282.5" cy="265.7" r="2.1"/><circle cx="273.3" cy="260.8" r="2.1"/><circle cx="285.5" cy="261.4" r="2.1"/><circle cx="284.8" cy="263.9" r="2.1"/><circle cx="288.0" cy="259.3" r="2.1"/><circle cx="275.3" cy="261.6" r="2.1"/><circle cx="290.8" cy="258.7" r="2.1"/><circle cx="284.7" cy="259.8" r="2.1"/><circle cx="279.7" cy="260.0" r="2.1"/><circle cx="284.2" cy="260.0" r="2.1"/><circle cx="270.1" cy="259.4" r="2.1"/><circle cx="271.6" cy="255.1" r="2.1"/><circle cx="289.3" cy="265.6" r="2.1"/><circle cx="286.4" cy="265.2" r="2.1"/><circle cx="282.9" cy="263.0" r="2.1"/><circle cx="280.9" cy="258.8" r="2.1"/><circle cx="278.7" cy="262.6" r="2.1"/><circle cx="285.0" cy="265.4" r="2.1"/><circle cx="281.7" cy="260.3" r="2.1"/><circle cx="271.5" cy="265.5" r="2.1"/><circle cx="289.0" cy="259.4" r="2.1"/><circle cx="287.6" cy="260.4" r="2.1"/><circle cx="273.6" cy="259.5" r="2.1"/><circle cx="285.8" cy="262.2" r="2.1"/><circle cx="289.0" cy="263.9" r="2.1"/><circle cx="274.4" cy="263.0" r="2.1"/><circle cx="277.6" cy="260.7" r="2.1"/><circle cx="269.6" cy="262.4" r="2.1"/><circle cx="281.7" cy="264.0" r="2.1"/><circle cx="270.8" cy="264.6" r="2.1"/><circle cx="288.6" cy="265.1" r="2.1"/><circle cx="275.5" cy="265.9" r="2.1"/><circle cx="276.3" cy="264.9" r="2.1"/><circle cx="274.7" cy="262.8" r="2.1"/><circle cx="281.1" cy="265.4" r="2.1"/><circle cx="281.8" cy="265.6" r="2.1"/><circle cx="283.3" cy="260.4" r="2.1"/><circle cx="273.5" cy="261.5" r="2.1"/><circle cx="287.7" cy="260.7" r="2.1"/><circle cx="275.8" cy="263.0" r="2.1"/><circle cx="282.0" cy="259.4" r="2.1"/><circle cx="275.7" cy="260.3" r="2.1"/><circle cx="280.1" cy="263.3" r="2.1"/><circle cx="273.2" cy="261.0" r="2.1"/><circle cx="276.5" cy="265.0" r="2.1"/><circle cx="277.7" cy="258.6" r="2.1"/><circle cx="291.0" cy="266.0" r="2.1"/><circle cx="286.6" cy="266.0" r="2.1"/><circle cx="269.5" cy="260.4" r="2.1"/><circle cx="271.3" cy="263.5" r="2.1"/><circle cx="286.1" cy="263.5" r="2.1"/><circle cx="288.4" cy="258.7" r="2.1"/><circle cx="289.6" cy="259.1" r="2.1"/><circle cx="273.2" cy="262.1" r="2.1"/><circle cx="273.8" cy="264.5" r="2.1"/><circle cx="286.7" cy="263.7" r="2.1"/><circle cx="271.4" cy="259.8" r="2.1"/><circle cx="283.7" cy="262.3" r="2.1"/><circle cx="278.6" cy="260.8" r="2.1"/><circle cx="272.5" cy="261.7" r="2.1"/><circle cx="269.7" cy="260.4" r="2.1"/><circle cx="285.5" cy="262.0" r="2.1"/><circle cx="280.2" cy="262.5" r="2.1"/><circle cx="280.9" cy="265.7" r="2.1"/><circle cx="275.2" cy="261.6" r="2.1"/><circle cx="289.6" cy="264.4" r="2.1"/><circle cx="286.0" cy="259.4" r="2.1"/><circle cx="269.6" cy="261.9" r="2.1"/><circle cx="271.9" cy="261.3" r="2.1"/><circle cx="284.5" cy="262.4" r="2.1"/><circle cx="283.5" cy="259.1" r="2.1"/><circle cx="289.4" cy="259.9" r="2.1"/><circle cx="288.8" cy="260.7" r="2.1"/><circle cx="288.3" cy="265.7" r="2.1"/><circle cx="284.9" cy="260.0" r="2.1"/><circle cx="287.5" cy="259.2" r="2.1"/><circle cx="282.3" cy="258.8" r="2.1"/><circle cx="278.4" cy="261.0" r="2.1"/><circle cx="274.3" cy="262.3" r="2.1"/><circle cx="288.5" cy="259.6" r="2.1"/><circle cx="280.9" cy="260.9" r="2.1"/><circle cx="269.5" cy="261.0" r="2.1"/><circle cx="274.0" cy="258.7" r="2.1"/><circle cx="275.1" cy="265.6" r="2.1"/><circle cx="301.0" cy="260.2" r="2.1"/><circle cx="320.6" cy="263.5" r="2.1"/><circle cx="304.3" cy="261.5" r="2.1"/><circle cx="307.1" cy="262.1" r="2.1"/><circle cx="308.0" cy="265.5" r="2.1"/><circle cx="309.9" cy="263.1" r="2.1"/><circle cx="315.1" cy="259.9" r="2.1"/><circle cx="303.0" cy="260.7" r="2.1"/><circle cx="302.9" cy="266.1" r="2.1"/><circle cx="315.2" cy="263.5" r="2.1"/><circle cx="300.6" cy="254.0" r="2.1"/><circle cx="312.4" cy="258.8" r="2.1"/><circle cx="308.6" cy="258.9" r="2.1"/><circle cx="316.1" cy="266.0" r="2.1"/><circle cx="301.9" cy="260.2" r="2.1"/><circle cx="312.2" cy="262.2" r="2.1"/><circle cx="311.3" cy="264.8" r="2.1"/><circle cx="317.0" cy="264.3" r="2.1"/><circle cx="308.5" cy="261.0" r="2.1"/><circle cx="301.3" cy="262.6" r="2.1"/><circle cx="302.4" cy="264.1" r="2.1"/><circle cx="318.3" cy="263.4" r="2.1"/><circle cx="318.8" cy="259.2" r="2.1"/><circle cx="304.0" cy="262.7" r="2.1"/><circle cx="317.2" cy="263.8" r="2.1"/><circle cx="306.2" cy="261.3" r="2.1"/><circle cx="320.7" cy="262.0" r="2.1"/><circle cx="320.1" cy="263.5" r="2.1"/><circle cx="311.2" cy="262.1" r="2.1"/><circle cx="309.5" cy="260.1" r="2.1"/><circle cx="312.6" cy="259.0" r="2.1"/><circle cx="301.5" cy="262.0" r="2.1"/><circle cx="302.6" cy="265.8" r="2.1"/><circle cx="301.6" cy="263.3" r="2.1"/><circle cx="312.2" cy="265.8" r="2.1"/><circle cx="312.9" cy="264.5" r="2.1"/><circle cx="314.7" cy="266.1" r="2.1"/><circle cx="308.0" cy="262.4" r="2.1"/><circle cx="310.3" cy="255.4" r="2.1"/><circle cx="306.2" cy="258.5" r="2.1"/><circle cx="316.5" cy="259.9" r="2.1"/><circle cx="317.6" cy="262.3" r="2.1"/><circle cx="298.8" cy="264.5" r="2.1"/><circle cx="320.1" cy="262.7" r="2.1"/><circle cx="309.7" cy="263.1" r="2.1"/><circle cx="310.2" cy="260.4" r="2.1"/><circle cx="299.5" cy="259.4" r="2.1"/><circle cx="321.0" cy="262.5" r="2.1"/><circle cx="316.4" cy="264.2" r="2.1"/><circle cx="298.9" cy="259.0" r="2.1"/><circle cx="317.7" cy="263.8" r="2.1"/><circle cx="318.5" cy="261.0" r="2.1"/><circle cx="299.6" cy="260.0" r="2.1"/><circle cx="301.3" cy="264.5" r="2.1"/><circle cx="311.5" cy="260.5" r="2.1"/><circle cx="300.0" cy="264.0" r="2.1"/><circle cx="309.2" cy="260.4" r="2.1"/><circle cx="303.2" cy="258.6" r="2.1"/><circle cx="312.7" cy="264.8" r="2.1"/><circle cx="316.0" cy="262.2" r="2.1"/><circle cx="313.6" cy="263.8" r="2.1"/><circle cx="309.5" cy="265.9" r="2.1"/><circle cx="308.3" cy="260.4" r="2.1"/><circle cx="320.2" cy="261.0" r="2.1"/><circle cx="320.5" cy="261.6" r="2.1"/><circle cx="300.8" cy="263.6" r="2.1"/><circle cx="319.4" cy="265.8" r="2.1"/><circle cx="319.9" cy="261.1" r="2.1"/><circle cx="312.0" cy="260.4" r="2.1"/><circle cx="315.3" cy="265.6" r="2.1"/><circle cx="311.1" cy="265.3" r="2.1"/><circle cx="318.3" cy="264.2" r="2.1"/><circle cx="317.0" cy="260.4" r="2.1"/><circle cx="308.3" cy="262.7" r="2.1"/><circle cx="318.5" cy="260.2" r="2.1"/><circle cx="303.4" cy="260.7" r="2.1"/><circle cx="316.0" cy="254.5" r="2.1"/><circle cx="314.8" cy="258.5" r="2.1"/><circle cx="317.6" cy="260.3" r="2.1"/><circle cx="308.3" cy="259.1" r="2.1"/><circle cx="310.4" cy="263.3" r="2.1"/><circle cx="299.9" cy="263.9" r="2.1"/><circle cx="314.2" cy="260.6" r="2.1"/><circle cx="298.9" cy="259.5" r="2.1"/><circle cx="311.0" cy="266.1" r="2.1"/><circle cx="310.4" cy="264.5" r="2.1"/><circle cx="320.3" cy="256.2" r="2.1"/><circle cx="313.3" cy="265.7" r="2.1"/><circle cx="317.5" cy="262.0" r="2.1"/><circle cx="313.9" cy="258.9" r="2.1"/><circle cx="317.1" cy="265.3" r="2.1"/><circle cx="316.4" cy="259.1" r="2.1"/><circle cx="307.3" cy="260.3" r="2.1"/><circle cx="299.8" cy="260.1" r="2.1"/><circle cx="314.7" cy="261.8" r="2.1"/><circle cx="315.1" cy="261.5" r="2.1"/><circle cx="318.9" cy="260.9" r="2.1"/><circle cx="309.4" cy="262.1" r="2.1"/><circle cx="305.0" cy="264.1" r="2.1"/><circle cx="302.0" cy="261.2" r="2.1"/><circle cx="315.0" cy="262.3" r="2.1"/><circle cx="307.2" cy="266.0" r="2.1"/><circle cx="320.6" cy="265.5" r="2.1"/><circle cx="299.2" cy="262.7" r="2.1"/><circle cx="313.2" cy="263.6" r="2.1"/><circle cx="304.6" cy="262.5" r="2.1"/><circle cx="310.2" cy="260.9" r="2.1"/><circle cx="300.4" cy="261.4" r="2.1"/><circle cx="315.7" cy="262.5" r="2.1"/><circle cx="317.7" cy="263.5" r="2.1"/><circle cx="298.6" cy="261.2" r="2.1"/><circle cx="308.8" cy="262.8" r="2.1"/><circle cx="303.7" cy="263.3" r="2.1"/><circle cx="299.7" cy="261.3" r="2.1"/><circle cx="304.9" cy="259.0" r="2.1"/><circle cx="306.9" cy="261.7" r="2.1"/><circle cx="301.4" cy="258.6" r="2.1"/><circle cx="308.6" cy="264.9" r="2.1"/><circle cx="318.5" cy="261.0" r="2.1"/><circle cx="301.0" cy="266.0" r="2.1"/><circle cx="308.3" cy="265.2" r="2.1"/><circle cx="320.4" cy="260.6" r="2.1"/><circle cx="313.0" cy="263.0" r="2.1"/><circle cx="318.5" cy="261.5" r="2.1"/><circle cx="302.3" cy="265.2" r="2.1"/><circle cx="315.7" cy="260.8" r="2.1"/><circle cx="299.0" cy="261.4" r="2.1"/><circle cx="305.8" cy="260.0" r="2.1"/><circle cx="321.1" cy="254.3" r="2.1"/><circle cx="305.9" cy="263.4" r="2.1"/><circle cx="306.7" cy="258.7" r="2.1"/><circle cx="308.2" cy="258.5" r="2.1"/><circle cx="314.9" cy="263.8" r="2.1"/><circle cx="317.8" cy="262.6" r="2.1"/><circle cx="316.6" cy="263.0" r="2.1"/><circle cx="314.4" cy="260.3" r="2.1"/><circle cx="320.0" cy="259.1" r="2.1"/><circle cx="298.7" cy="263.2" r="2.1"/><circle cx="298.5" cy="263.5" r="2.1"/><circle cx="319.6" cy="263.8" r="2.1"/><circle cx="316.2" cy="255.4" r="2.1"/><circle cx="309.5" cy="261.0" r="2.1"/><circle cx="315.7" cy="259.8" r="2.1"/><circle cx="316.7" cy="261.9" r="2.1"/><circle cx="309.5" cy="262.5" r="2.1"/><circle cx="306.1" cy="260.5" r="2.1"/><circle cx="313.7" cy="263.3" r="2.1"/><circle cx="319.7" cy="259.2" r="2.1"/><circle cx="306.4" cy="263.3" r="2.1"/><circle cx="299.3" cy="261.5" r="2.1"/><circle cx="300.0" cy="259.0" r="2.1"/><circle cx="321.0" cy="261.8" r="2.1"/><circle cx="315.5" cy="260.6" r="2.1"/><circle cx="317.8" cy="265.3" r="2.1"/><circle cx="303.4" cy="260.6" r="2.1"/><circle cx="306.7" cy="262.2" r="2.1"/><circle cx="320.7" cy="262.7" r="2.1"/><circle cx="319.0" cy="258.6" r="2.1"/><circle cx="307.1" cy="260.2" r="2.1"/><circle cx="315.2" cy="261.8" r="2.1"/><circle cx="306.9" cy="261.0" r="2.1"/><circle cx="313.0" cy="262.4" r="2.1"/><circle cx="298.6" cy="264.1" r="2.1"/><circle cx="313.1" cy="262.1" r="2.1"/><circle cx="307.2" cy="259.3" r="2.1"/><circle cx="314.9" cy="263.2" r="2.1"/><circle cx="308.0" cy="263.4" r="2.1"/><circle cx="307.8" cy="263.6" r="2.1"/><circle cx="320.9" cy="265.8" r="2.1"/><circle cx="313.0" cy="261.9" r="2.1"/><circle cx="318.3" cy="260.3" r="2.1"/><circle cx="303.4" cy="262.3" r="2.1"/><circle cx="313.0" cy="259.6" r="2.1"/><circle cx="302.7" cy="261.2" r="2.1"/><circle cx="311.5" cy="255.4" r="2.1"/><circle cx="305.8" cy="262.0" r="2.1"/><circle cx="306.7" cy="260.5" r="2.1"/><circle cx="307.0" cy="260.4" r="2.1"/><circle cx="311.0" cy="254.1" r="2.1"/><circle cx="310.9" cy="260.9" r="2.1"/><circle cx="320.4" cy="266.2" r="2.1"/><circle cx="319.0" cy="263.1" r="2.1"/><circle cx="298.7" cy="261.6" r="2.1"/><circle cx="311.5" cy="263.0" r="2.1"/><circle cx="317.6" cy="265.2" r="2.1"/><circle cx="299.3" cy="264.3" r="2.1"/><circle cx="310.5" cy="264.2" r="2.1"/><circle cx="305.0" cy="264.9" r="2.1"/><circle cx="306.5" cy="261.2" r="2.1"/><circle cx="299.5" cy="265.1" r="2.1"/><circle cx="301.5" cy="260.6" r="2.1"/><circle cx="300.0" cy="261.0" r="2.1"/><circle cx="302.1" cy="260.9" r="2.1"/><circle cx="300.5" cy="265.8" r="2.1"/><circle cx="319.1" cy="259.4" r="2.1"/><circle cx="311.7" cy="261.3" r="2.1"/><circle cx="309.7" cy="261.1" r="2.1"/><circle cx="305.3" cy="259.7" r="2.1"/><circle cx="320.3" cy="260.9" r="2.1"/><circle cx="307.6" cy="262.9" r="2.1"/><circle cx="316.3" cy="263.5" r="2.1"/><circle cx="304.9" cy="262.5" r="2.1"/><circle cx="301.1" cy="260.2" r="2.1"/><circle cx="313.1" cy="264.8" r="2.1"/><circle cx="303.7" cy="264.5" r="2.1"/><circle cx="318.7" cy="263.7" r="2.1"/><circle cx="307.4" cy="260.1" r="2.1"/><circle cx="308.9" cy="264.7" r="2.1"/><circle cx="307.4" cy="265.5" r="2.1"/><circle cx="305.3" cy="259.6" r="2.1"/><circle cx="314.1" cy="265.8" r="2.1"/><circle cx="314.8" cy="260.0" r="2.1"/><circle cx="304.2" cy="264.2" r="2.1"/><circle cx="319.7" cy="265.9" r="2.1"/><circle cx="306.7" cy="262.4" r="2.1"/><circle cx="316.0" cy="261.9" r="2.1"/><circle cx="314.0" cy="265.5" r="2.1"/><circle cx="307.8" cy="260.1" r="2.1"/><circle cx="305.8" cy="259.4" r="2.1"/><circle cx="308.7" cy="261.7" r="2.1"/><circle cx="317.0" cy="260.7" r="2.1"/><circle cx="310.8" cy="262.3" r="2.1"/><circle cx="316.9" cy="266.1" r="2.1"/><circle cx="317.8" cy="265.0" r="2.1"/><circle cx="315.2" cy="260.5" r="2.1"/><circle cx="299.8" cy="259.1" r="2.1"/><circle cx="312.9" cy="265.0" r="2.1"/><circle cx="301.6" cy="266.0" r="2.1"/><circle cx="308.8" cy="262.0" r="2.1"/><circle cx="310.4" cy="266.2" r="2.1"/><circle cx="299.8" cy="265.5" r="2.1"/><circle cx="302.3" cy="263.1" r="2.1"/><circle cx="315.1" cy="265.0" r="2.1"/><circle cx="300.1" cy="263.7" r="2.1"/><circle cx="313.2" cy="265.6" r="2.1"/><circle cx="318.6" cy="262.5" r="2.1"/><circle cx="319.0" cy="260.6" r="2.1"/><circle cx="308.4" cy="259.6" r="2.1"/><circle cx="307.1" cy="259.6" r="2.1"/><circle cx="303.1" cy="266.0" r="2.1"/><circle cx="305.5" cy="259.0" r="2.1"/><circle cx="314.1" cy="258.6" r="2.1"/><circle cx="306.8" cy="265.4" r="2.1"/><circle cx="308.0" cy="258.8" r="2.1"/><circle cx="299.6" cy="264.1" r="2.1"/><circle cx="316.3" cy="265.7" r="2.1"/><circle cx="317.4" cy="264.0" r="2.1"/><circle cx="311.1" cy="258.6" r="2.1"/><circle cx="307.0" cy="259.0" r="2.1"/><circle cx="313.3" cy="260.6" r="2.1"/><circle cx="315.7" cy="254.5" r="2.1"/><circle cx="300.0" cy="265.5" r="2.1"/><circle cx="317.7" cy="265.4" r="2.1"/><circle cx="315.1" cy="258.5" r="2.1"/><circle cx="308.1" cy="264.8" r="2.1"/><circle cx="318.7" cy="259.5" r="2.1"/><circle cx="313.5" cy="266.1" r="2.1"/><circle cx="316.7" cy="261.2" r="2.1"/><circle cx="42.8" cy="259.6" r="2.1"/><circle cx="59.8" cy="260.2" r="2.1"/><circle cx="88.2" cy="261.7" r="2.1"/><circle cx="95.0" cy="259.1" r="2.1"/><circle cx="139.0" cy="261.4" r="2.1"/><circle cx="162.8" cy="258.7" r="2.1"/><circle cx="169.3" cy="261.8" r="2.1"/><circle cx="171.0" cy="266.5" r="2.1"/><circle cx="194.9" cy="259.3" r="2.1"/><circle cx="199.0" cy="262.0" r="2.1"/><circle cx="202.4" cy="262.0" r="2.1"/><circle cx="200.6" cy="261.0" r="2.1"/><circle cx="210.7" cy="262.8" r="2.1"/><circle cx="213.0" cy="258.8" r="2.1"/><circle cx="215.2" cy="263.4" r="2.1"/><circle cx="218.5" cy="255.7" r="2.1"/><circle cx="218.2" cy="258.2" r="2.1"/><circle cx="220.0" cy="262.0" r="2.1"/><circle cx="222.0" cy="261.0" r="2.1"/><circle cx="224.0" cy="262.0" r="2.1"/><circle cx="226.0" cy="261.0" r="2.1"/><circle cx="227.0" cy="260.0" r="2.1"/><circle cx="219.0" cy="260.5" r="2.1"/><circle cx="221.0" cy="259.0" r="2.1"/><circle cx="223.5" cy="259.5" r="2.1"/><circle cx="216.5" cy="262.5" r="2.1"/><circle cx="225.0" cy="263.0" r="2.1"/><circle cx="217.0" cy="261.0" r="2.1"/><circle cx="233.1" cy="259.0" r="2.1"/><circle cx="242.6" cy="252.3" r="2.1"/></g>
<!-- axes -->
<g stroke="#2a2a2a" stroke-width="1.15" fill="none" stroke-linejoin="round">
<path d="M22.6 14.2V279.0H334.8"/>
<path d="M20.0 26.4H22.6M20.0 86.5H22.6M20.0 146.6H22.6M20.0 206.7H22.6M20.0 266.85H22.6"/>
<path d="M91.4 279.0V281.4M164.2 279.0V281.4M237.0 279.0V281.4M309.8 279.0V281.4"/>
</g>
<g class="tk" text-anchor="end">
<text x="18.8" y="29.2" class="tk">40</text>
<text x="18.8" y="89.3" class="tk">30</text>
<text x="18.8" y="149.4" class="tk">20</text>
<text x="18.8" y="209.5" class="tk">10</text>
<text x="18.8" y="269.6" class="tk">0</text>
</g>
<g text-anchor="middle">
<text x="91.4" y="288" class="tk">0.25</text>
<text x="164.2" y="288" class="tk">0.50</text>
<text x="237.0" y="288" class="tk">0.75</text>
<text x="309.8" y="288" class="tk">1.00</text>
</g>
<text x="177.6" y="298.8" text-anchor="middle" style="font-size:8.85px" fill="#111">The Threshold of Betray</text>
<text transform="translate(7.3 148.0) rotate(-90)" text-anchor="middle" style="font-size:8.9px" fill="#111">The Numbers of States</text>
<!-- left legend -->
<circle cx="35.05" cy="20.55" r="4.75" fill="#FF8C00"/>
<path d="M29.4 41.4H41.5L35.45 30.6Z" fill="#00A087"/>
<text x="45.3" y="23.0" style="font-size:7.3px" fill="#1a1a1a">Unity</text>
<text x="45.3" y="39.6" style="font-size:7.3px" fill="#1a1a1a">Disunity</text>
<!-- table -->
<rect x="109.2" y="16.3" width="234.1" height="8.5" fill="#00A087"/><text x="147.0" y="22.9" class="tb">The Threshold of Betray</text><text x="226.4" y="22.9" class="tb">Disunity(%)</text><text x="304.5" y="22.9" class="tb">Unity(%)</text><rect x="109.2" y="24.80" width="234.1" height="9.04" fill="#E2EFDA"/><text x="148.2" y="31.60" class="tb">0.1</text><text x="226.4" y="31.60" class="tb">99.33%</text><text x="304.5" y="31.60" class="tb">0.67%</text><rect x="109.2" y="33.84" width="234.1" height="9.04" fill="#FFFFFF"/><text x="148.2" y="40.64" class="tb">0.2</text><text x="226.4" y="40.64" class="tb">99.67%</text><text x="304.5" y="40.64" class="tb">0.33%</text><rect x="109.2" y="42.88" width="234.1" height="9.04" fill="#E2EFDA"/><text x="148.2" y="49.68" class="tb">0.3</text><text x="226.4" y="49.68" class="tb">99.67%</text><text x="304.5" y="49.68" class="tb">0.33%</text><rect x="109.2" y="51.92" width="234.1" height="9.04" fill="#FFFFFF"/><text x="148.2" y="58.72" class="tb">0.4</text><text x="226.4" y="58.72" class="tb">99.67%</text><text x="304.5" y="58.72" class="tb">0.33%</text><rect x="109.2" y="60.96" width="234.1" height="9.04" fill="#E2EFDA"/><text x="148.2" y="67.76" class="tb">0.5</text><text x="226.4" y="67.76" class="tb">99.00%</text><text x="304.5" y="67.76" class="tb">1.00%</text><rect x="109.2" y="70.00" width="234.1" height="9.04" fill="#FFFFFF"/><text x="148.2" y="76.80" class="tb">0.6</text><text x="226.4" y="76.80" class="tb">98.67%</text><text x="304.5" y="76.80" class="tb">1.33%</text><rect x="109.2" y="79.04" width="234.1" height="9.04" fill="#E2EFDA"/><text x="148.2" y="85.84" class="tb">0.7</text><text x="226.4" y="85.84" class="tb">93.33%</text><text x="304.5" y="85.84" class="tb">6.67%</text><rect x="109.2" y="88.08" width="234.1" height="9.04" fill="#FFFFFF"/><text x="148.2" y="94.88" class="tb">0.8</text><text x="226.4" y="94.88" class="tb">65.33%</text><text x="304.5" y="94.88" class="tb">34.67%</text><rect x="109.2" y="97.12" width="234.1" height="9.04" fill="#E2EFDA"/><text x="148.2" y="103.92" class="tb">0.9</text><text x="226.4" y="103.92" class="tb">16.67%</text><text x="304.5" y="103.92" class="tb">83.33%</text><rect x="109.2" y="106.16" width="234.1" height="9.04" fill="#FFFFFF"/><text x="148.2" y="112.96" class="tb">1</text><text x="226.4" y="112.96" class="tb">14.00%</text><text x="304.5" y="112.96" class="tb">86.00%</text>
<g stroke="#C6E0B4" stroke-width="0.8"><line x1="109.2" y1="24.80" x2="343.3" y2="24.80"/><line x1="109.2" y1="33.84" x2="343.3" y2="33.84"/><line x1="109.2" y1="42.88" x2="343.3" y2="42.88"/><line x1="109.2" y1="51.92" x2="343.3" y2="51.92"/><line x1="109.2" y1="60.96" x2="343.3" y2="60.96"/><line x1="109.2" y1="70.00" x2="343.3" y2="70.00"/><line x1="109.2" y1="79.04" x2="343.3" y2="79.04"/><line x1="109.2" y1="88.08" x2="343.3" y2="88.08"/><line x1="109.2" y1="97.12" x2="343.3" y2="97.12"/><line x1="109.2" y1="106.16" x2="343.3" y2="106.16"/><line x1="109.2" y1="115.20" x2="343.3" y2="115.20"/><line x1="109.2" y1="16.3" x2="109.2" y2="115.20"/><line x1="187.2" y1="16.3" x2="187.2" y2="115.20"/><line x1="265.6" y1="16.3" x2="265.6" y2="115.20"/><line x1="343.3" y1="16.3" x2="343.3" y2="115.20"/></g>
<!-- tree -->
<g stroke="#333" stroke-width="1" fill="none">
<path d="M401.5 198.2V127.5H465.2M484.1 127.5H487.6M567.9 127.5H570.5M585.6 127.5H653.5V198.2"/>
</g>
<rect x="465.2" y="119.4" width="18.9" height="16" rx="2.5" fill="#fff" stroke="#222" stroke-width="0.9"/>
<rect x="570.5" y="119.4" width="15.1" height="16" rx="2.5" fill="#fff" stroke="#222" stroke-width="0.9"/>
<text x="474.6" y="130.6" text-anchor="middle" style="font-size:9.4px;font-style:italic" fill="#111">yes</text>
<text x="578.0" y="130.6" text-anchor="middle" style="font-size:9.4px;font-style:italic" fill="#111">no</text>
<text x="529.4" y="130.8" text-anchor="middle" style="font-size:8.75px;font-weight:bold" fill="#000">betray &gt;= 0.85%?</text>
<path d="M497.3 67.2A21 12 0 0 1 518.3 55.2H537.0A21 12 0 0 1 558.0 67.2V105.2A21 12 0 0 1 537.0 117.2H518.3A21 12 0 0 1 497.3 105.2Z" fill="#00A087" stroke="#111" stroke-width="1.1"/><text x="527.6" y="76.2" class="nd">1</text><text x="527.6" y="90.0" class="nd">0.28&#160;&#160;0.72</text><text x="527.6" y="103.8" class="nd">100%</text><path d="M371.3 210.2A21 12 0 0 1 392.3 198.2H411.0A21 12 0 0 1 432.0 210.2V248.3A21 12 0 0 1 411.0 260.3H392.3A21 12 0 0 1 371.3 248.3Z" fill="#FF8C00" stroke="#111" stroke-width="1.1"/><text x="401.6" y="219.2" class="nd">0</text><text x="401.6" y="233.1" class="nd">0.84&#160;&#160;0.16</text><text x="401.6" y="246.8" class="nd">29%</text><path d="M623.6 210.2A21 12 0 0 1 644.6 198.2H663.3A21 12 0 0 1 684.3 210.2V248.3A21 12 0 0 1 663.3 260.3H644.6A21 12 0 0 1 623.6 248.3Z" fill="#00A087" stroke="#111" stroke-width="1.1"/><text x="654.0" y="219.2" class="nd">1</text><text x="654.0" y="233.1" class="nd">0.05&#160;&#160;0.95</text><text x="654.0" y="246.8" class="nd">71%</text>
<!-- tree legend -->
<rect x="611.2" y="17.8" width="10.2" height="9" fill="#FF8C00" stroke="#222" stroke-width="0.8"/>
<rect x="611.2" y="35.2" width="10.2" height="9.4" fill="#00A087" stroke="#222" stroke-width="0.8"/>
<text x="616.3" y="26.0" text-anchor="middle" style="font-size:10.2px" fill="#111">0</text>
<text x="616.3" y="43.3" text-anchor="middle" style="font-size:10.2px" fill="#111">1</text>
<text x="626.7" y="25.3" style="font-size:7.4px" fill="#1a1a1a">Unity</text>
<text x="626.9" y="42.6" style="font-size:7.4px" fill="#1a1a1a">Disunity</text>
</svg>
</body></html>
